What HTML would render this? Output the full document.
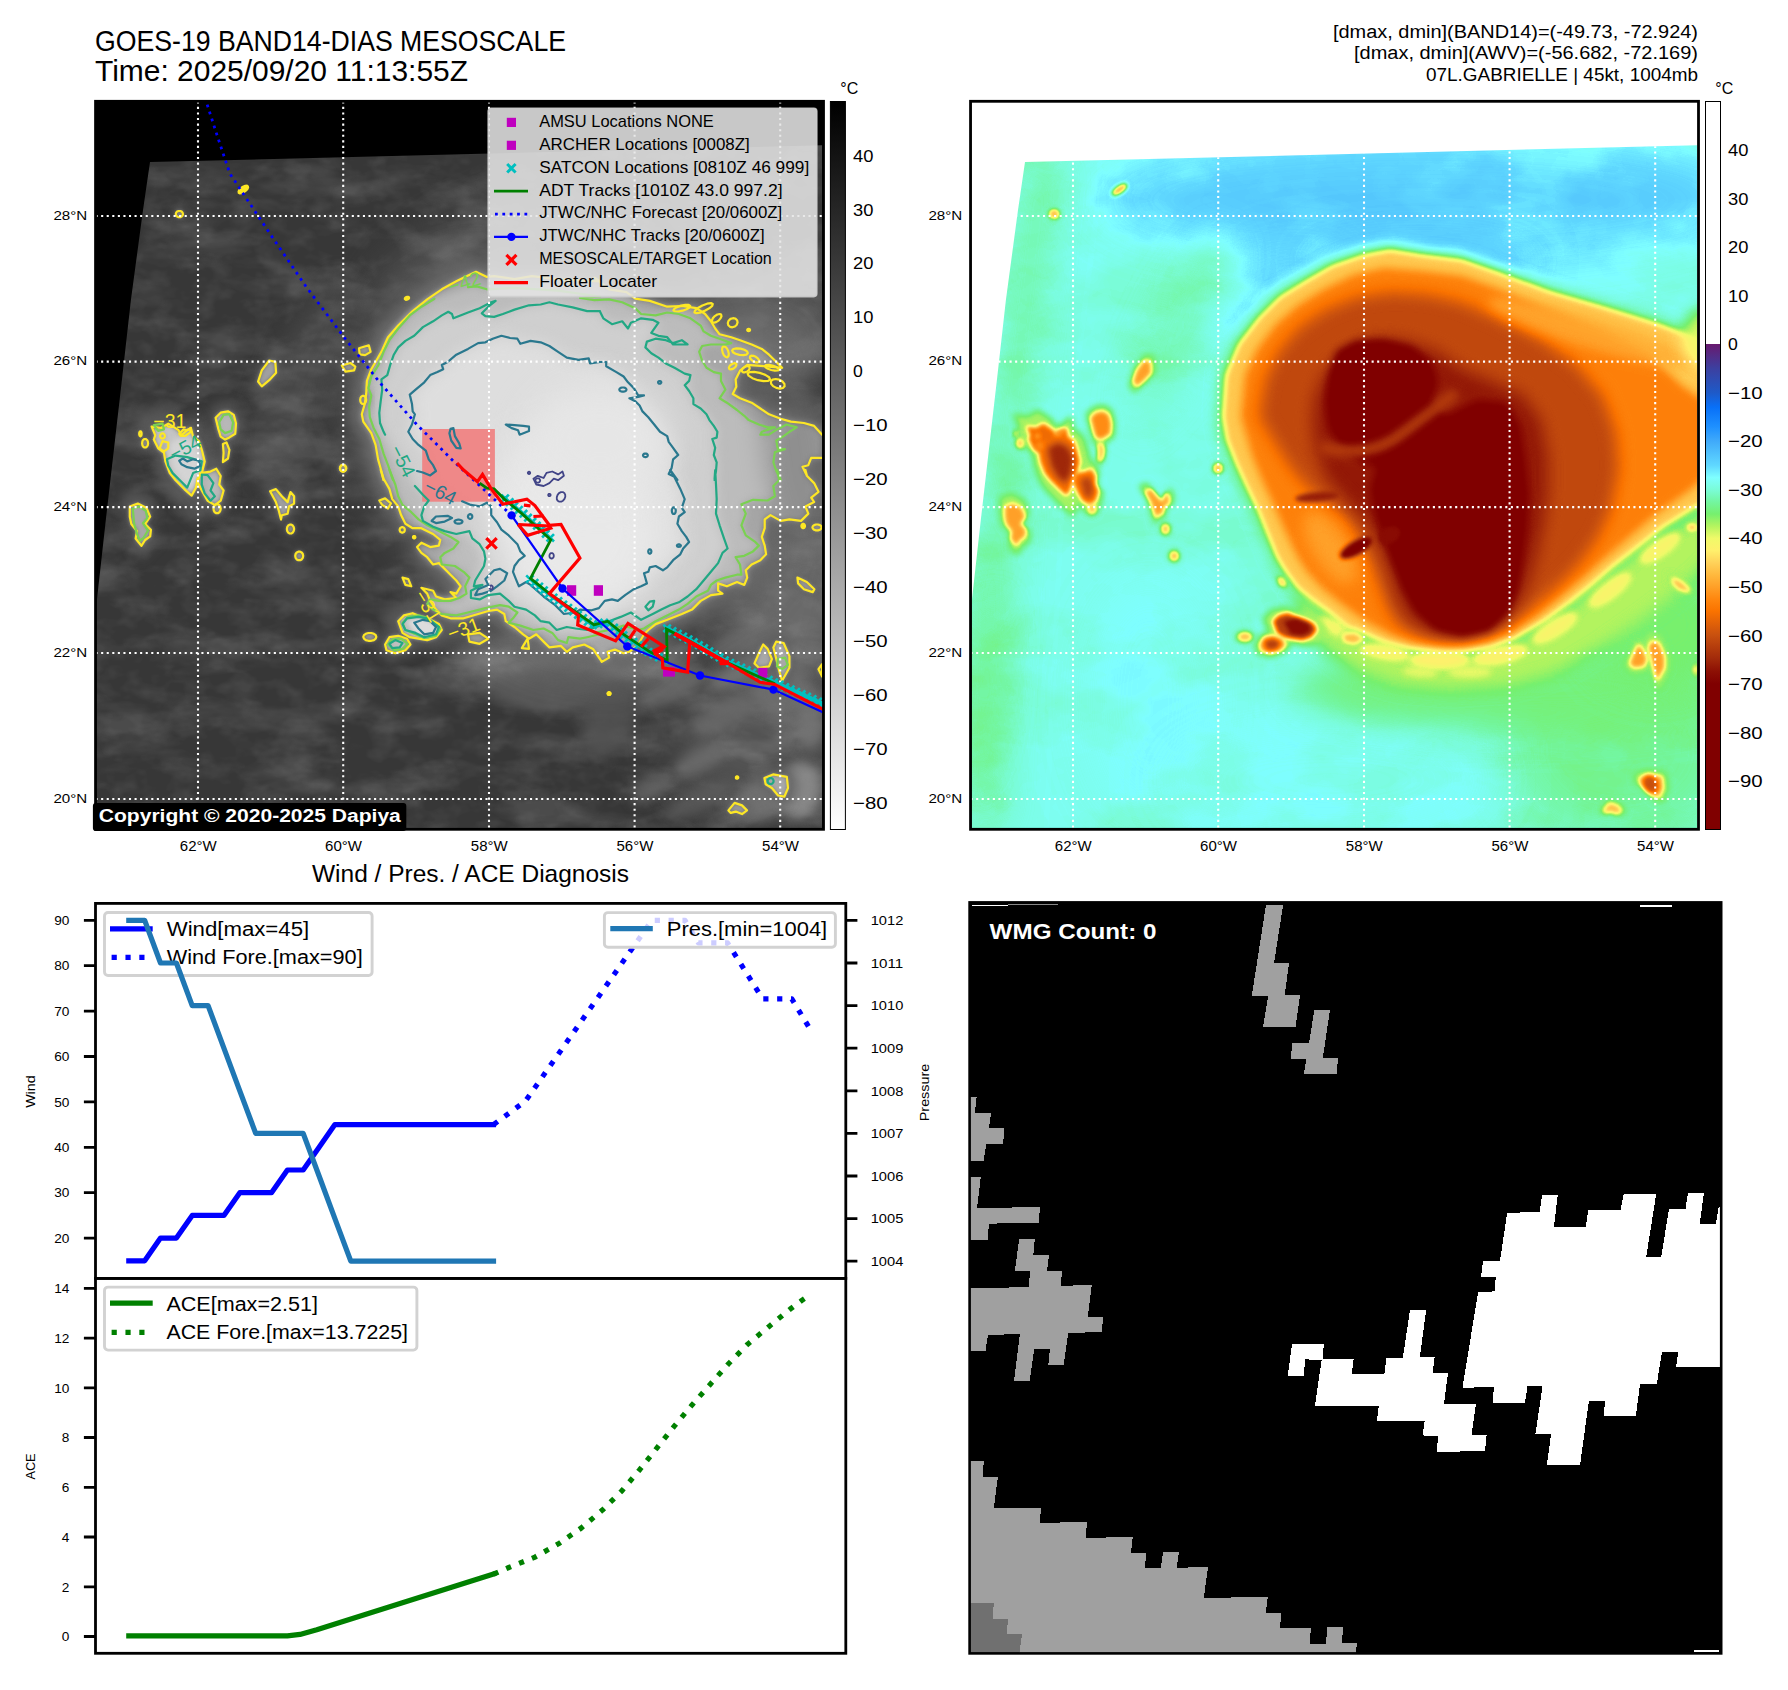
<!DOCTYPE html>
<html><head><meta charset="utf-8"><title>GOES-19 BAND14-DIAS MESOSCALE</title>
<style>html,body{margin:0;padding:0;background:#fff}body{width:1788px;height:1690px;overflow:hidden}svg{display:block}text{font-family:"Liberation Sans",sans-serif}</style>
</head><body>
<svg width="1788" height="1690" viewBox="0 0 1788 1690">
<defs><clipPath id="axL"><rect x="95.55" y="101.3" width="727.95" height="728.0"/></clipPath>
<clipPath id="imgL"><polygon points="150.0,162.1 822.2,145.2 822.2,832.0 92.0,832.0 92.0,640.0 94.0,626.0 96.9,600.0 105.8,520.0 121.9,380.0 130.9,300.0 143.0,210.0"/></clipPath>
<filter id="b1_2" x="-60%" y="-60%" width="220%" height="220%" color-interpolation-filters="sRGB"><feGaussianBlur stdDeviation="1.2"/></filter>
<filter id="b2" x="-60%" y="-60%" width="220%" height="220%" color-interpolation-filters="sRGB"><feGaussianBlur stdDeviation="2"/></filter>
<filter id="b3" x="-60%" y="-60%" width="220%" height="220%" color-interpolation-filters="sRGB"><feGaussianBlur stdDeviation="3"/></filter>
<filter id="b4" x="-60%" y="-60%" width="220%" height="220%" color-interpolation-filters="sRGB"><feGaussianBlur stdDeviation="4"/></filter>
<filter id="b6" x="-60%" y="-60%" width="220%" height="220%" color-interpolation-filters="sRGB"><feGaussianBlur stdDeviation="6"/></filter>
<filter id="b8" filterUnits="userSpaceOnUse" x="0" y="0" width="1788" height="900" color-interpolation-filters="sRGB"><feGaussianBlur stdDeviation="8"/></filter>
<filter id="b12" filterUnits="userSpaceOnUse" x="0" y="0" width="1788" height="900" color-interpolation-filters="sRGB"><feGaussianBlur stdDeviation="12"/></filter>
<filter id="b18" filterUnits="userSpaceOnUse" x="0" y="0" width="1788" height="900" color-interpolation-filters="sRGB"><feGaussianBlur stdDeviation="18"/></filter>
<filter id="b28" filterUnits="userSpaceOnUse" x="0" y="0" width="1788" height="900" color-interpolation-filters="sRGB"><feGaussianBlur stdDeviation="28"/></filter>
<filter id="nzA" x="0" y="0" width="100%" height="100%" color-interpolation-filters="sRGB">
<feTurbulence type="fractalNoise" baseFrequency="0.012 0.03" numOctaves="4" seed="7" result="t"/>
<feColorMatrix in="t" type="matrix" values="0 0 0 0 1  0 0 0 0 1  0 0 0 0 1  3.2 0 0 0 -1.45"/>
</filter>
<filter id="nzB" x="0" y="0" width="100%" height="100%" color-interpolation-filters="sRGB">
<feTurbulence type="fractalNoise" baseFrequency="0.035 0.05" numOctaves="3" seed="23" result="t"/>
<feColorMatrix in="t" type="matrix" values="0 0 0 0 1  0 0 0 0 1  0 0 0 0 1  0 2.6 0 0 -1.15"/>
</filter><clipPath id="axR"><rect x="970.55" y="101.3" width="727.95" height="728.0"/></clipPath>
<clipPath id="imgR"><polygon points="1025.0,162.1 1697.2,145.2 1697.2,832.0 967.0,832.0 967.0,640.0 969.0,626.0 971.9,600.0 980.8,520.0 996.9,380.0 1005.9,300.0 1018.0,210.0"/></clipPath>
<filter id="cmR" filterUnits="userSpaceOnUse" x="965.55" y="96.3" width="737.95" height="738.0" color-interpolation-filters="sRGB">
<feComponentTransfer><feFuncR type="table" tableValues="0.251 0.314 0.376 0.498 0.478 0.451 0.463 0.706 0.941 1.000 1.000 1.000 1.000 1.000 0.980 0.882 0.784 0.706 0.627 0.549 0.502 0.502 0.502"/><feFuncG type="table" tableValues="0.667 0.757 0.847 1.000 0.988 0.965 0.941 0.957 0.980 0.941 0.824 0.725 0.627 0.529 0.451 0.380 0.314 0.235 0.157 0.059 0.000 0.000 0.000"/><feFuncB type="table" tableValues="0.980 0.988 1.000 1.000 0.843 0.627 0.431 0.373 0.412 0.424 0.353 0.243 0.157 0.059 0.000 0.031 0.059 0.047 0.039 0.016 0.000 0.000 0.000"/></feComponentTransfer></filter>
<filter id="nzC" x="0" y="0" width="100%" height="100%" color-interpolation-filters="sRGB">
<feTurbulence type="fractalNoise" baseFrequency="0.010 0.016" numOctaves="4" seed="11" result="t"/>
<feColorMatrix in="t" type="matrix" values="0 0 0 0 1  0 0 0 0 1  0 0 0 0 1  3.0 0 0 0 -1.2"/>
</filter>
<filter id="nzD" x="0" y="0" width="100%" height="100%" color-interpolation-filters="sRGB">
<feTurbulence type="fractalNoise" baseFrequency="0.014 0.02" numOctaves="4" seed="5" result="t"/>
<feColorMatrix in="t" type="matrix" values="0 0 0 0 0  0 0 0 0 0  0 0 0 0 0  0 3.0 0 0 -1.25"/>
</filter></defs>
<rect width="1788" height="1690" fill="#fff"/>
<text x="95" y="51.2" font-size="29.4" textLength="471" lengthAdjust="spacingAndGlyphs" fill="#000">GOES-19 BAND14-DIAS MESOSCALE</text>
<text x="95" y="81.2" font-size="29.4" textLength="373" lengthAdjust="spacingAndGlyphs" fill="#000">Time: 2025/09/20 11:13:55Z</text>
<text x="1698" y="38.3" font-size="18.0" text-anchor="end" textLength="365" lengthAdjust="spacingAndGlyphs" fill="#000">[dmax, dmin](BAND14)=(-49.73, -72.924)</text>
<text x="1698" y="59.4" font-size="18.0" text-anchor="end" textLength="344" lengthAdjust="spacingAndGlyphs" fill="#000">[dmax, dmin](AWV)=(-56.682, -72.169)</text>
<text x="1698" y="80.6" font-size="18.0" text-anchor="end" textLength="272" lengthAdjust="spacingAndGlyphs" fill="#000">07L.GABRIELLE | 45kt, 1004mb</text>
<g clip-path="url(#axL)">
<rect x="95.55" y="101.3" width="727.95" height="728.0" fill="#000"/>
<g clip-path="url(#imgL)">
<rect x="90" y="140" width="740" height="695" fill="#373737"/>
<ellipse cx="760" cy="735" rx="90" ry="80" fill="#545454" filter="url(#b28)"/>
<ellipse cx="575" cy="662" rx="120" ry="30" fill="#747474" filter="url(#b12)"/>
<ellipse cx="790" cy="560" rx="60" ry="140" fill="#6a6a6a" filter="url(#b18)"/>
<ellipse cx="760" cy="330" rx="90" ry="60" fill="#5a5a5a" filter="url(#b18)"/>
<ellipse cx="480" cy="250" rx="120" ry="40" fill="#4c4c4c" filter="url(#b18)" transform="rotate(-25 480 250)"/>
<ellipse cx="300" cy="380" rx="30" ry="110" fill="#474747" filter="url(#b12)" transform="rotate(25 300 380)"/>
<rect x="90" y="140" width="740" height="695" filter="url(#nzA)" opacity="0.10"/>
<rect x="90" y="140" width="740" height="695" filter="url(#nzB)" opacity="0.07"/>
<ellipse cx="670" cy="690" rx="40" ry="12" fill="#6c6c6c" filter="url(#b6)" opacity="0.8" transform="rotate(-25 670 690)"/>
<ellipse cx="725" cy="715" rx="36" ry="14" fill="#6a6a6a" filter="url(#b6)" opacity="0.8" transform="rotate(-30 725 715)"/>
<ellipse cx="780" cy="690" rx="26" ry="30" fill="#727272" filter="url(#b6)" opacity="0.8"/>
<ellipse cx="800" cy="790" rx="22" ry="28" fill="#959595" filter="url(#b6)" opacity="0.8" transform="rotate(10 800 790)"/>
<ellipse cx="760" cy="800" rx="30" ry="20" fill="#7a7a7a" filter="url(#b6)" opacity="0.8" transform="rotate(-20 760 800)"/>
<ellipse cx="700" cy="760" rx="28" ry="12" fill="#6e6e6e" filter="url(#b6)" opacity="0.8" transform="rotate(-30 700 760)"/>
<ellipse cx="650" cy="790" rx="22" ry="10" fill="#666" filter="url(#b6)" opacity="0.8" transform="rotate(-30 650 790)"/>
<ellipse cx="810" cy="720" rx="14" ry="30" fill="#777" filter="url(#b6)" opacity="0.8"/>
<ellipse cx="735" cy="675" rx="30" ry="10" fill="#7c7c7c" filter="url(#b6)" opacity="0.8" transform="rotate(-25 735 675)"/>
<ellipse cx="700" cy="800" rx="40" ry="12" fill="#5c5c5c" filter="url(#b6)" opacity="0.8" transform="rotate(-25 700 800)"/>
<ellipse cx="745" cy="640" rx="36" ry="14" fill="#6c6c6c" filter="url(#b6)" opacity="0.8" transform="rotate(-20 745 640)"/>
<ellipse cx="560" cy="690" rx="70" ry="22" fill="#5a5a5a" filter="url(#b6)" opacity="0.8"/>
<ellipse cx="610" cy="720" rx="24" ry="40" fill="#545454" filter="url(#b6)" opacity="0.8" transform="rotate(20 610 720)"/>
<polygon points="367.1,480.8 364.8,471.1 361.1,458.5 358.5,442.8 353.8,430.3 345.1,417.7 343.6,409.9 346.7,398.9 348.3,387.9 349.1,373.7 353.8,361.2 359.3,351.8 365.5,340.8 371.8,326.6 382.8,314.1 398.5,298.4 414.2,285.8 429.9,274.8 445.6,266.2 456.6,260.7 466.8,256.0 478.6,261.5 486.5,260.7 508.5,263.8 527.3,260.7 555.6,263.8 600.8,266.2 594.9,262.2 610.6,274.8 629.5,277.9 638.9,285.0 654.6,287.4 673.4,293.6 689.1,292.9 704.8,295.2 714.3,301.5 720.5,309.4 725.3,317.2 730.0,323.5 742.5,326.6 751.9,329.8 764.5,334.5 775.5,339.2 783.4,345.5 789.6,351.8 797.5,359.6 780.2,358.0 759.8,356.5 751.9,362.7 747.2,372.2 748.0,380.0 744.1,387.9 751.9,392.6 764.5,397.3 773.9,403.6 783.4,409.9 795.9,414.6 806.9,417.7 821.0,419.3 832.0,422.4 840.7,431.8 840.7,457.0 828.9,457.0 825.8,464.8 819.5,466.4 824.2,475.8 822.6,470.0 824.2,476.3 832.0,484.1 836.8,493.6 828.9,499.8 832.0,504.5 822.6,509.3 825.8,517.1 817.9,525.0 805.3,523.4 795.9,525.0 784.9,518.7 778.6,523.4 778.6,532.8 775.5,542.2 778.6,551.7 780.2,561.1 773.9,567.4 764.5,572.1 758.2,578.4 759.8,586.2 756.7,594.1 748.8,590.9 737.8,595.6 728.4,592.5 728.4,600.3 733.1,603.5 720.5,605.1 709.5,611.3 700.1,620.8 689.1,625.5 673.4,631.8 660.9,636.5 653.0,642.7 648.3,647.5 642.0,658.5 632.6,666.3 626.3,667.9 616.9,664.0 609.0,666.3 610.6,672.6 602.8,677.3 600.8,674.2 593.3,663.2 583.8,658.5 571.3,661.6 565.0,666.3 558.7,660.0 546.1,661.6 539.9,655.3 532.0,647.5 524.2,652.2 517.9,647.5 508.5,639.6 499.0,633.3 497.5,625.5 489.6,620.8 480.2,622.3 469.2,625.5 453.5,630.2 439.4,630.2 429.9,627.0 423.6,620.8 417.4,611.3 414.2,603.5 407.9,597.2 420.5,600.3 423.6,606.6 433.1,609.8 445.6,608.2 439.4,601.9 445.6,603.5 450.3,595.6 445.6,589.4 439.4,583.1 433.1,576.8 426.8,570.5 420.5,572.1 414.2,564.2 407.9,559.5 403.2,553.2 407.9,548.5 417.4,553.2 426.8,551.7 428.4,545.4 420.5,539.1 407.9,532.8 398.5,532.8 390.7,528.1 386.0,518.7 382.8,509.3 376.5,501.4 373.4,490.4 367.1,479.4 364.0,470.0" fill="#5e5e5e" filter="url(#b18)"/>
<polygon points="375.4,480.4 373.1,471.1 369.6,459.0 367.1,443.8 362.5,431.7 354.2,419.6 352.7,412.1 355.7,401.5 357.2,390.9 358.0,377.3 362.5,365.2 367.8,356.1 373.9,345.5 379.9,331.9 390.5,319.8 405.6,304.7 420.7,292.6 435.9,282.0 451.0,273.7 461.6,268.4 471.4,263.9 482.7,269.2 490.3,268.4 511.5,271.4 529.6,268.4 556.8,271.4 600.4,273.7 594.7,269.9 609.8,282.0 628.0,285.1 637.1,291.9 652.2,294.1 670.3,300.2 685.5,299.4 700.6,301.7 709.7,307.7 715.7,315.3 720.2,322.9 724.8,328.9 736.9,331.9 746.0,335.0 758.0,339.5 768.6,344.0 776.2,350.1 782.2,356.1 789.8,363.7 773.2,362.2 753.5,360.7 746.0,366.7 741.4,375.8 742.2,383.4 738.4,390.9 746.0,395.5 758.0,400.0 767.1,406.0 776.2,412.1 788.3,416.6 798.9,419.6 812.5,421.2 823.1,424.2 831.4,433.3 831.4,457.5 820.1,457.5 817.0,465.0 811.0,466.5 815.5,475.6 814.0,470.0 815.5,476.0 823.1,483.6 827.6,492.7 820.1,498.7 823.1,503.3 814.0,507.8 817.0,515.4 809.5,522.9 797.4,521.4 788.3,522.9 777.7,516.9 771.7,521.4 771.7,530.5 768.6,539.6 771.7,548.6 773.2,557.7 767.1,563.8 758.0,568.3 752.0,574.3 753.5,581.9 750.5,589.5 742.9,586.4 732.3,591.0 723.3,588.0 723.3,595.5 727.8,598.5 715.7,600.1 705.1,606.1 696.0,615.2 685.5,619.7 670.3,625.8 658.2,630.3 650.7,636.4 646.1,640.9 640.1,651.5 631.0,659.0 625.0,660.5 615.9,656.8 608.3,659.0 609.8,665.1 602.3,669.6 600.4,666.6 593.1,656.0 584.1,651.5 572.0,654.5 565.9,659.0 559.9,653.0 547.8,654.5 541.7,648.4 534.2,640.9 526.6,645.4 520.5,640.9 511.5,633.3 502.4,627.3 500.9,619.7 493.3,615.2 484.3,616.7 473.7,619.7 458.5,624.3 444.9,624.3 435.9,621.2 429.8,615.2 423.8,606.1 420.7,598.5 414.7,592.5 426.8,595.5 429.8,601.6 438.9,604.6 451.0,603.1 444.9,597.0 451.0,598.5 455.5,591.0 451.0,584.9 444.9,578.9 438.9,572.8 432.8,566.8 426.8,568.3 420.7,560.7 414.7,556.2 410.2,550.2 414.7,545.6 423.8,550.2 432.8,548.6 434.3,542.6 426.8,536.5 414.7,530.5 405.6,530.5 398.1,526.0 393.5,516.9 390.5,507.8 384.4,500.2 381.4,489.7 375.4,479.1 372.3,470.0" fill="#707070" filter="url(#b8)"/>
<polygon points="383.6,480.0 381.4,471.0 378.1,459.4 375.6,444.9 371.3,433.2 363.3,421.6 361.8,414.3 364.7,404.1 366.2,394.0 366.9,380.9 371.3,369.2 376.4,360.5 382.2,350.3 388.0,337.2 398.2,325.6 412.7,311.1 427.2,299.4 441.8,289.3 456.3,281.3 466.5,276.2 476.0,271.8 486.9,276.9 494.1,276.2 514.5,279.1 531.9,276.2 558.1,279.1 600.0,281.3 594.5,277.6 609.1,289.3 626.5,292.2 635.3,298.7 649.8,300.9 667.2,306.7 681.8,306.0 696.3,308.2 705.1,314.0 710.9,321.3 715.2,328.5 719.6,334.3 731.2,337.2 740.0,340.2 751.6,344.5 761.8,348.9 769.0,354.7 774.9,360.5 782.1,367.8 766.1,366.3 747.2,364.9 740.0,370.7 735.6,379.4 736.3,386.7 732.7,394.0 740.0,398.3 751.6,402.7 760.3,408.5 769.0,414.3 780.7,418.7 790.8,421.6 803.9,423.0 814.1,425.9 822.1,434.7 822.1,457.9 811.2,457.9 808.3,465.2 802.5,466.7 806.8,475.4 805.4,470.0 806.8,475.8 814.1,483.1 818.5,491.8 811.2,497.6 814.1,502.0 805.4,506.4 808.3,513.6 801.0,520.9 789.4,519.4 780.7,520.9 770.5,515.1 764.7,519.4 764.7,528.2 761.8,536.9 764.7,545.6 766.1,554.3 760.3,560.2 751.6,564.5 745.8,570.3 747.2,577.6 744.3,584.9 737.0,582.0 726.9,586.3 718.1,583.4 718.1,590.7 722.5,593.6 710.9,595.1 700.7,600.9 692.0,609.6 681.8,614.0 667.2,619.8 655.6,624.1 648.3,630.0 644.0,634.3 638.2,644.5 629.4,651.8 623.6,653.2 614.9,649.6 607.6,651.8 609.1,657.6 601.8,661.9 600.0,659.0 593.0,648.9 584.3,644.5 572.7,647.4 566.8,651.8 561.0,645.9 549.4,647.4 543.6,641.6 536.3,634.3 529.0,638.7 523.2,634.3 514.5,627.0 505.8,621.2 504.3,614.0 497.0,609.6 488.3,611.0 478.1,614.0 463.6,618.3 450.5,618.3 441.8,615.4 436.0,609.6 430.2,600.9 427.2,593.6 421.4,587.8 433.1,590.7 436.0,596.5 444.7,599.4 456.3,598.0 450.5,592.1 456.3,593.6 460.7,586.3 456.3,580.5 450.5,574.7 444.7,568.9 438.9,563.1 433.1,564.5 427.2,557.2 421.4,552.9 417.1,547.1 421.4,542.7 430.2,547.1 438.9,545.6 440.3,539.8 433.1,534.0 421.4,528.2 412.7,528.2 405.4,523.8 401.1,515.1 398.2,506.4 392.3,499.1 389.4,488.9 383.6,478.7 380.7,470.0" fill="#a6a6a6" filter="url(#b3)"/>
<polygon points="393.1,480.0 388.0,465.2 383.6,453.6 379.3,439.0 373.4,427.4 369.8,417.2 369.1,407.0 371.3,395.4 368.4,388.1 371.3,376.5 374.9,370.7 378.5,364.9 383.6,351.8 389.4,340.2 398.2,328.5 409.8,315.4 421.4,306.7 434.5,298.7 468.0,287.1 476.7,286.4 486.9,289.3 514.5,287.8 558.1,290.7 600.0,296.5 580.0,298.0 594.5,300.2 609.1,299.4 622.2,302.3 635.3,308.2 641.1,314.0 655.6,315.4 667.2,312.5 678.9,314.0 690.5,318.3 700.7,325.6 703.6,331.4 710.9,335.8 719.6,338.7 731.2,343.1 725.4,344.5 710.9,344.5 702.1,346.0 699.2,351.8 702.1,360.5 706.5,367.8 713.8,372.1 721.0,373.6 721.0,380.9 725.4,389.6 719.6,398.3 726.9,402.7 737.0,410.0 744.3,415.8 748.7,420.1 758.9,424.5 767.6,427.4 774.9,427.4 761.8,431.8 760.3,434.7 769.0,434.7 777.8,428.9 786.5,424.5 796.7,427.4 789.4,431.8 783.6,436.1 776.3,440.5 777.8,449.2 785.0,449.2 774.9,452.1 773.4,462.3 776.3,471.0 780.7,480.0 777.0,470.0 779.2,480.2 773.4,486.0 774.9,496.2 767.6,500.5 753.0,499.8 741.4,504.2 745.8,513.6 741.4,525.3 745.8,535.4 754.5,541.3 758.9,545.6 753.0,551.4 744.3,555.8 735.6,557.2 740.0,564.5 741.4,574.7 737.0,574.7 725.4,577.6 716.7,580.5 710.9,584.9 708.0,590.7 696.3,596.5 687.6,603.8 678.9,609.6 667.2,615.4 655.6,621.2 644.0,628.5 638.2,630.0 623.6,625.6 609.1,630.0 594.5,632.9 600.0,634.3 587.2,637.2 579.9,638.7 568.3,637.2 566.8,643.0 558.1,640.1 552.3,632.9 543.6,628.5 533.4,630.0 520.3,625.6 508.7,622.7 513.0,618.3 517.4,612.5 508.7,606.7 500.0,605.2 485.4,608.1 470.9,611.8 456.3,615.4 441.8,614.0 433.1,609.6 427.2,603.8 430.2,599.4 438.9,600.9 450.5,600.9 459.2,598.0 466.5,593.6 465.1,586.3 469.4,577.6 463.6,571.8 454.9,566.0 441.8,564.5 440.3,557.2 444.7,552.9 453.4,548.5 458.5,542.0 450.5,536.9 438.9,531.1 427.2,525.3 418.5,519.4 411.3,512.2 402.5,504.9 398.2,496.2 395.3,484.5 389.4,470.0" fill="#bcbcbc" filter="url(#b4)"/>
<polygon points="385.1,434.7 383.6,431.8 380.0,423.0 379.3,412.9 380.7,401.2 382.2,389.6 381.4,379.4 387.3,375.1 390.2,364.9 393.8,354.7 398.2,347.4 405.4,340.9 414.2,335.8 422.9,327.1 433.1,321.3 441.8,315.4 448.3,311.8 452.0,314.0 453.4,318.3 468.0,312.5 479.6,308.2 491.2,302.3 495.6,300.9 488.3,306.7 481.8,313.3 485.4,316.2 494.1,316.9 502.9,314.0 514.5,309.6 529.0,305.3 540.7,304.5 549.4,302.3 558.1,304.5 572.7,307.4 587.2,311.1 600.0,311.1 600.1,311.8 603.3,318.3 612.0,324.2 622.2,321.3 628.0,328.5 630.9,322.7 641.1,318.3 652.7,319.8 658.5,322.7 651.3,332.9 658.5,335.8 667.2,337.2 673.1,344.5 687.6,344.5 681.8,340.2 673.1,343.1 665.8,340.2 655.6,338.7 646.9,341.6 645.4,347.4 651.3,353.2 658.5,357.6 665.8,363.4 674.5,367.8 684.7,373.6 690.5,375.1 689.1,380.9 684.7,385.2 689.1,391.0 693.4,398.3 693.4,404.1 700.7,408.5 706.5,414.3 709.4,420.1 713.8,425.9 717.4,431.8 716.7,437.6 712.3,439.0 715.2,447.8 713.8,455.0 716.7,462.3 716.0,471.0 714.5,480.0 715.2,470.0 716.0,484.5 716.7,499.1 716.0,513.6 719.6,525.3 724.0,538.3 727.6,548.5 722.5,552.9 718.1,563.1 710.9,571.8 703.6,580.5 696.3,589.2 687.6,596.5 678.9,602.3 670.2,605.2 661.4,609.6 652.7,614.0 641.1,619.8 630.9,612.5 620.7,616.9 609.1,621.2 600.0,625.6 587.2,630.0 575.6,628.5 566.8,627.0 556.7,630.0 549.4,622.7 540.7,621.2 534.9,615.4 526.1,609.6 514.5,606.7 508.7,600.9 500.0,593.6 488.3,595.1 479.6,599.4 470.9,598.0 470.9,590.7 482.5,584.9 473.8,586.3 475.2,580.5 479.6,573.2 484.0,566.0 485.4,558.7 484.0,551.4 479.6,544.2 472.3,538.3 469.4,531.1 456.3,534.0 444.7,531.1 433.1,526.7 422.9,520.9 421.4,515.1 424.3,506.4 428.7,500.5 422.9,494.7 414.9,486.0" fill="#cfcfcf" filter="url(#b6)"/>
<polygon points="417.1,471.0 422.9,472.5 430.2,475.4 436.0,471.0 433.1,465.2 428.7,459.4 425.8,450.7 418.5,444.9 412.7,439.0 408.3,431.8 412.0,424.5 414.9,414.3 412.7,411.4 412.0,404.1 409.8,394.7 415.6,389.6 424.3,382.3 430.2,375.1 437.4,372.1 443.2,369.2 441.8,364.9 447.6,362.0 456.3,354.7 468.0,348.9 478.1,343.1 485.4,342.3 492.7,338.7 501.4,335.8 510.1,338.0 517.4,338.7 520.3,343.8 530.5,340.9 540.7,342.3 549.4,346.0 558.1,351.8 566.8,357.6 578.5,359.8 588.7,358.3 590.1,363.4 600.0,362.0 606.2,362.0 606.2,366.3 616.4,372.1 623.6,376.5 628.0,382.3 633.8,388.1 638.2,395.4 644.0,395.4 638.2,396.9 629.4,398.3 635.3,401.2 639.6,405.6 642.5,411.4 648.3,417.2 654.2,424.5 660.0,431.8 667.2,436.1 668.7,441.9 673.1,447.8 678.2,455.0 673.1,459.4 671.6,468.1 668.7,473.9 674.5,476.8 677.4,480.0 670.2,470.0 674.5,477.3 680.3,488.9 684.7,499.1 681.8,507.8 684.7,512.2 678.9,516.5 677.4,523.8 681.8,531.1 686.2,536.9 689.1,542.0 683.2,548.5 680.3,554.3 673.1,560.2 667.2,567.4 662.9,570.3 655.6,566.0 649.8,567.4 648.3,571.8 644.0,573.2 646.9,583.4 641.1,586.3 633.8,589.2 625.1,595.1 617.8,600.9 612.0,599.4 604.7,600.9 598.9,608.1 591.6,610.3 580.0,609.6 575.6,612.5 563.9,614.0 555.2,605.2 543.6,596.5 530.5,584.9 526.1,582.0 518.9,586.3 515.9,579.1 513.0,571.8 514.5,566.0 518.9,560.2 524.7,555.8 520.3,551.4 517.4,544.2 508.7,535.4 501.4,529.6 497.0,522.3 491.2,515.1 491.2,506.4 486.9,502.7 479.6,506.4 470.9,504.9 462.1,501.3" fill="#dedede" filter="url(#b8)"/>
<ellipse cx="795" cy="450" rx="32" ry="105" fill="#6e6e6e" filter="url(#b12)" opacity="0.4" transform="rotate(-8 795 450)"/>
<ellipse cx="775" cy="335" rx="55" ry="24" fill="#7a7a7a" filter="url(#b12)" opacity="0.45" transform="rotate(25 775 335)"/>
<polygon points="132.0,408.4 148.1,410.9 160.5,403.5 177.8,414.6 182.7,423.2 192.6,414.6 198.8,410.9 202.5,425.7 212.4,433.1 217.3,448.0 222.3,467.7 217.3,487.5 209.9,497.4 207.4,512.2 200.0,525.8 187.7,514.7 172.8,499.9 162.9,487.5 155.5,467.7 153.1,452.9 143.2,445.5 135.7,430.7 138.2,423.2" fill="#5c5c5c" filter="url(#b6)" opacity="0.8"/>
<polygon points="192.1,464.2 209.4,461.7 219.3,456.8 226.7,469.1 224.2,484.0 231.7,493.8 226.7,511.1 216.8,518.6 204.5,511.1 194.6,493.8 187.2,479.0" fill="#5c5c5c" filter="url(#b6)" opacity="0.8"/>
<polygon points="208.1,412.3 216.8,403.6 229.1,401.1 239.0,407.3 242.7,422.1 241.5,439.5 231.6,445.6 224.2,449.3 216.8,444.4 213.1,432.0" fill="#5c5c5c" filter="url(#b6)" opacity="0.8"/>
<polygon points="221.0,438.6 227.2,436.2 232.1,448.5 229.7,463.4 221.0,469.5 222.2,453.5" fill="#5c5c5c" filter="url(#b6)" opacity="0.8"/>
<polygon points="122.1,493.8 135.7,488.8 150.5,496.3 156.7,511.1 148.1,523.4 157.9,533.3 156.7,544.5 148.1,550.6 141.9,560.5 132.0,548.2 134.5,535.8 124.6,523.4 122.1,511.1" fill="#5c5c5c" filter="url(#b6)" opacity="0.8"/>
<polygon points="260.6,483.0 270.5,479.3 280.4,491.7 290.3,501.6 295.2,484.3 301.4,491.7 301.4,504.0 292.8,509.0 290.3,521.3 280.4,523.8 279.2,531.2 275.5,516.4 270.5,501.6" fill="#5c5c5c" filter="url(#b6)" opacity="0.8"/>
<polygon points="296.6,529.0 296.0,532.4 294.3,535.2 291.9,536.7 289.1,536.7 286.7,535.2 285.0,532.4 284.4,529.0 285.0,525.7 286.7,522.9 289.1,521.4 291.9,521.4 294.3,522.9 296.0,525.7" fill="#5c5c5c" filter="url(#b6)" opacity="0.8"/>
<polygon points="306.0,555.9 305.3,559.2 303.5,561.8 300.7,563.2 297.7,563.2 295.0,561.8 293.1,559.2 292.4,555.9 293.1,552.7 295.0,550.1 297.7,548.7 300.7,548.7 303.5,550.1 305.3,552.7" fill="#5c5c5c" filter="url(#b6)" opacity="0.8"/>
<polygon points="150.2,443.3 149.7,446.5 148.3,449.1 146.2,450.5 143.9,450.5 141.9,449.1 140.5,446.5 140.0,443.3 140.5,440.0 141.9,437.4 143.9,436.0 146.2,436.0 148.3,437.4 149.7,440.0" fill="#5c5c5c" filter="url(#b6)" opacity="0.8"/>
<polygon points="142.5,433.8 142.3,435.7 141.7,437.3 140.9,438.1 140.0,438.1 139.2,437.3 138.6,435.7 138.4,433.8 138.6,431.9 139.2,430.3 140.0,429.5 140.9,429.5 141.7,430.3 142.3,431.9" fill="#5c5c5c" filter="url(#b6)" opacity="0.8"/>
<polygon points="348.6,468.3 348.0,470.8 346.5,472.8 344.3,473.9 341.9,473.9 339.7,472.8 338.2,470.8 337.7,468.3 338.2,465.8 339.7,463.7 341.9,462.6 344.3,462.6 346.5,463.7 348.0,465.8" fill="#5c5c5c" filter="url(#b6)" opacity="0.8"/>
<polygon points="223.2,508.7 222.6,512.1 220.9,514.8 218.4,516.3 215.7,516.3 213.2,514.8 211.5,512.1 210.9,508.7 211.5,505.3 213.2,502.6 215.7,501.1 218.4,501.1 220.9,502.6 222.6,505.3" fill="#5c5c5c" filter="url(#b6)" opacity="0.8"/>
<polygon points="166.6,436.0 166.2,437.9 165.1,439.4 163.4,440.3 161.6,440.3 160.0,439.4 158.9,437.9 158.4,436.0 158.9,434.1 160.0,432.5 161.6,431.7 163.4,431.7 165.1,432.5 166.2,434.1" fill="#5c5c5c" filter="url(#b6)" opacity="0.8"/>
<polygon points="161.1,437.4 171.0,439.9 171.0,449.8 163.6,454.7 156.2,449.8" fill="#5c5c5c" filter="url(#b6)" opacity="0.8"/>
<polygon points="175.0,434.9 182.4,427.5 188.6,428.7 194.8,425.0 193.6,432.4 184.9,438.6 177.5,438.6" fill="#5c5c5c" filter="url(#b6)" opacity="0.8"/>
<polygon points="185.5,214.1 184.9,216.5 183.2,218.4 180.7,219.4 178.0,219.4 175.5,218.4 173.8,216.5 173.2,214.1 173.8,211.8 175.5,209.9 178.0,208.8 180.7,208.8 183.2,209.9 184.9,211.8" fill="#5c5c5c" filter="url(#b6)" opacity="0.8"/>
<polygon points="251.6,387.1 257.9,368.3 270.5,351.6 280.9,353.6 282.2,372.5 270.5,385.0 257.9,395.5" fill="#5c5c5c" filter="url(#b6)" opacity="0.8"/>
<polygon points="336.4,364.1 351.1,359.9 359.4,366.2 357.3,372.5 342.7,374.5" fill="#5c5c5c" filter="url(#b6)" opacity="0.8"/>
<polygon points="355.0,346.3 371.8,341.3 374.7,352.6 365.5,358.0 356.3,356.8" fill="#5c5c5c" filter="url(#b6)" opacity="0.8"/>
<polygon points="348.1,468.3 347.6,470.8 346.2,472.8 344.1,474.0 341.9,474.0 339.8,472.8 338.4,470.8 337.9,468.3 338.4,465.8 339.8,463.8 341.9,462.7 344.1,462.7 346.2,463.8 347.6,465.8" fill="#5c5c5c" filter="url(#b6)" opacity="0.8"/>
<polygon points="368.3,399.9 367.8,403.0 366.4,405.5 364.3,406.9 362.0,406.9 360.0,405.5 358.6,403.0 358.1,399.9 358.6,396.8 360.0,394.3 362.0,393.0 364.3,393.0 366.4,394.3 367.8,396.8" fill="#5c5c5c" filter="url(#b6)" opacity="0.8"/>
<polygon points="382.8,617.0 392.7,607.1 407.5,603.4 422.4,609.6 437.2,614.6 452.0,622.0 457.0,631.9 447.1,644.2 432.3,649.2 417.4,646.7 402.6,644.2 390.2,636.8" fill="#5c5c5c" filter="url(#b6)" opacity="0.8"/>
<polygon points="376.6,644.6 384.0,632.3 398.9,629.8 413.7,634.7 419.9,644.6 411.2,654.5 393.9,659.5 379.1,654.5" fill="#5c5c5c" filter="url(#b6)" opacity="0.8"/>
<polygon points="380.9,636.9 379.8,639.9 376.7,642.2 372.3,643.6 367.4,643.6 362.9,642.2 359.9,639.9 358.8,636.9 359.9,634.0 362.9,631.6 367.4,630.3 372.3,630.3 376.7,631.6 379.8,634.0" fill="#5c5c5c" filter="url(#b6)" opacity="0.8"/>
<polygon points="399.5,574.6 409.4,577.0 414.3,589.4 404.4,586.9" fill="#5c5c5c" filter="url(#b6)" opacity="0.8"/>
<polygon points="406.7,529.9 406.2,532.0 405.0,533.6 403.2,534.6 401.3,534.6 399.5,533.6 398.3,532.0 397.8,529.9 398.3,527.8 399.5,526.2 401.3,525.3 403.2,525.3 405.0,526.2 406.2,527.8" fill="#5c5c5c" filter="url(#b6)" opacity="0.8"/>
<polygon points="461.7,631.6 481.4,629.1 496.3,639.0 481.4,647.6 464.1,643.9" fill="#5c5c5c" filter="url(#b6)" opacity="0.8"/>
<polygon points="518.7,650.2 528.6,634.1 531.1,651.4" fill="#5c5c5c" filter="url(#b6)" opacity="0.8"/>
<polygon points="375.2,498.7 385.1,495.0 395.0,503.6 390.0,512.3 380.1,506.1" fill="#5c5c5c" filter="url(#b6)" opacity="0.8"/>
<polygon points="791.7,572.0 807.7,579.4 820.6,591.8 817.6,596.7 802.8,591.8 792.9,581.9" fill="#5c5c5c" filter="url(#b6)" opacity="0.8"/>
<polygon points="824.8,527.4 824.1,529.7 821.9,531.4 818.8,532.4 815.3,532.4 812.1,531.4 810.0,529.7 809.2,527.4 810.0,525.2 812.1,523.5 815.3,522.5 818.8,522.5 821.9,523.5 824.1,525.2" fill="#5c5c5c" filter="url(#b6)" opacity="0.8"/>
<polygon points="763.1,635.3 770.5,642.7 777.9,660.1 773.0,672.4 755.7,674.9 748.2,667.5 755.7,650.2" fill="#5c5c5c" filter="url(#b6)" opacity="0.8"/>
<polygon points="772.9,629.9 785.2,632.4 795.1,654.6 795.1,674.4 782.8,696.6 777.8,679.3 772.9,659.5 767.9,639.8" fill="#5c5c5c" filter="url(#b6)" opacity="0.8"/>
<polygon points="823.0,660.1 816.8,668.7 823.0,681.1" fill="#5c5c5c" filter="url(#b6)" opacity="0.8"/>
<polygon points="755.9,773.1 770.7,766.7 794.0,771.0 796.1,790.0 789.7,804.8 779.2,802.7 768.6,790.0 758.0,783.6" fill="#5c5c5c" filter="url(#b6)" opacity="0.8"/>
<polygon points="722.1,810.9 732.7,798.2 745.4,802.4 753.8,810.9 745.4,817.2 734.8,813.0 726.4,815.1" fill="#5c5c5c" filter="url(#b6)" opacity="0.8"/>
<polygon points="151.6,426.5 161.1,428.0 168.3,423.6 178.5,430.2 181.4,435.3 187.2,430.2 190.9,428.0 193.1,436.7 198.9,441.1 201.8,449.8 204.7,461.4 201.8,473.1 197.4,478.9 196.0,487.6 191.6,495.6 184.3,489.1 175.6,480.3 169.8,473.1 165.4,461.4 164.0,452.7 158.2,448.3 153.8,439.6 155.3,435.3" fill="#c4c4c4" filter="url(#b2)"/>
<polygon points="200.3,473.1 210.5,471.6 216.3,468.7 220.7,476.0 219.2,484.7 223.6,490.5 220.7,500.7 214.9,505.1 207.6,500.7 201.8,490.5 197.4,481.8" fill="#b0b0b0" filter="url(#b2)"/>
<polygon points="215.6,417.8 220.7,412.7 228.0,411.3 233.8,414.9 236.0,423.6 235.2,433.8 229.4,437.4 225.1,439.6 220.7,436.7 218.5,429.4" fill="#adadad" filter="url(#b2)"/>
<polygon points="222.9,444.0 226.5,442.5 229.4,449.8 228.0,458.5 222.9,462.2 223.6,452.7" fill="#999" filter="url(#b2)"/>
<polygon points="129.8,506.5 137.8,503.6 146.5,508.0 150.2,516.7 145.1,524.0 150.9,529.8 150.2,536.3 145.1,540.0 141.4,545.8 135.6,538.5 137.1,531.2 131.3,524.0 129.8,516.7" fill="#a8a8a8" filter="url(#b2)"/>
<polygon points="270.1,491.2 275.9,489.1 281.8,496.3 287.6,502.1 290.5,492.0 294.1,496.3 294.1,503.6 289.0,506.5 287.6,513.8 281.8,515.2 281.0,519.6 278.9,510.9 275.9,502.1" fill="#a0a0a0" filter="url(#b2)"/>
<polygon points="294.1,529.0 293.7,531.0 292.7,532.6 291.3,533.5 289.7,533.5 288.2,532.6 287.2,531.0 286.9,529.0 287.2,527.1 288.2,525.5 289.7,524.6 291.3,524.6 292.7,525.5 293.7,527.1" fill="#999" filter="url(#b2)"/>
<polygon points="303.2,555.9 302.8,557.9 301.7,559.4 300.1,560.2 298.3,560.2 296.7,559.4 295.6,557.9 295.2,555.9 295.6,554.0 296.7,552.5 298.3,551.7 300.1,551.7 301.7,552.5 302.8,554.0" fill="#999" filter="url(#b2)"/>
<polygon points="148.1,443.3 147.8,445.2 146.9,446.7 145.7,447.5 144.4,447.5 143.2,446.7 142.4,445.2 142.1,443.3 142.4,441.3 143.2,439.8 144.4,439.0 145.7,439.0 146.9,439.8 147.8,441.3" fill="#999" filter="url(#b2)"/>
<polygon points="141.6,433.8 141.5,434.9 141.2,435.8 140.7,436.3 140.2,436.3 139.7,435.8 139.3,434.9 139.2,433.8 139.3,432.7 139.7,431.8 140.2,431.3 140.7,431.3 141.2,431.8 141.5,432.7" fill="#999" filter="url(#b2)"/>
<polygon points="346.3,468.3 346.0,469.7 345.1,470.9 343.8,471.6 342.4,471.6 341.1,470.9 340.2,469.7 339.9,468.3 340.2,466.8 341.1,465.6 342.4,465.0 343.8,465.0 345.1,465.6 346.0,466.8" fill="#999" filter="url(#b2)"/>
<polygon points="220.7,508.7 220.3,510.7 219.3,512.3 217.9,513.2 216.3,513.2 214.8,512.3 213.8,510.7 213.5,508.7 213.8,506.7 214.8,505.1 216.3,504.2 217.9,504.2 219.3,505.1 220.3,506.7" fill="#999" filter="url(#b2)"/>
<polygon points="164.9,436.0 164.7,437.1 164.0,438.0 163.1,438.5 162.0,438.5 161.0,438.0 160.4,437.1 160.1,436.0 160.4,434.9 161.0,434.0 162.0,433.4 163.1,433.4 164.0,434.0 164.7,434.9" fill="#999" filter="url(#b2)"/>
<polygon points="162.5,441.1 168.3,442.5 168.3,448.3 164.0,451.3 159.6,448.3" fill="#aaa" filter="url(#b2)"/>
<polygon points="179.2,433.8 183.6,429.4 187.2,430.2 190.9,428.0 190.2,432.3 185.1,436.0 180.7,436.0" fill="#aaa" filter="url(#b2)"/>
<polygon points="183.0,214.1 182.6,215.5 181.6,216.6 180.2,217.2 178.6,217.2 177.1,216.6 176.1,215.5 175.8,214.1 176.1,212.7 177.1,211.6 178.6,211.0 180.2,211.0 181.6,211.6 182.6,212.7" fill="#999" filter="url(#b2)"/>
<polygon points="258.1,381.5 261.8,370.4 269.2,360.5 275.3,361.8 276.1,372.8 269.2,380.2 261.8,386.4" fill="#a0a0a0" filter="url(#b2)"/>
<polygon points="341.8,365.5 350.4,363.0 355.3,366.7 354.1,370.4 345.5,371.6" fill="#999" filter="url(#b2)"/>
<polygon points="359.0,348.2 368.8,345.3 370.6,351.9 365.1,355.1 359.7,354.4" fill="#999" filter="url(#b2)"/>
<polygon points="346.0,468.3 345.7,469.8 344.9,471.0 343.7,471.6 342.3,471.6 341.1,471.0 340.3,469.8 340.0,468.3 340.3,466.9 341.1,465.7 342.3,465.0 343.7,465.0 344.9,465.7 345.7,466.9" fill="#999" filter="url(#b2)"/>
<polygon points="366.2,399.9 365.9,401.7 365.0,403.2 363.8,404.0 362.5,404.0 361.3,403.2 360.5,401.7 360.2,399.9 360.5,398.1 361.3,396.6 362.5,395.8 363.8,395.8 365.0,396.6 365.9,398.1" fill="#999" filter="url(#b2)"/>
<polygon points="398.2,621.2 404.0,615.4 412.7,613.2 421.4,616.9 430.2,619.8 438.9,624.1 441.8,630.0 436.0,637.2 427.2,640.1 418.5,638.7 409.8,637.2 402.5,632.9" fill="#bdbdbd" filter="url(#b2)"/>
<polygon points="385.1,644.5 389.4,637.2 398.2,635.8 406.9,638.7 410.5,644.5 405.4,650.3 395.3,653.2 386.5,650.3" fill="#aaa" filter="url(#b2)"/>
<polygon points="376.3,636.9 375.7,638.7 373.9,640.1 371.3,640.8 368.4,640.8 365.8,640.1 364.0,638.7 363.3,636.9 364.0,635.2 365.8,633.8 368.4,633.0 371.3,633.0 373.9,633.8 375.7,635.2" fill="#999" filter="url(#b2)"/>
<polygon points="402.5,577.6 408.3,579.1 411.3,586.3 405.4,584.9" fill="#999" filter="url(#b2)"/>
<polygon points="404.8,529.9 404.6,531.1 403.9,532.1 402.8,532.6 401.7,532.6 400.6,532.1 399.9,531.1 399.6,529.9 399.9,528.7 400.6,527.7 401.7,527.2 402.8,527.2 403.9,527.7 404.6,528.7" fill="#999" filter="url(#b2)"/>
<polygon points="468.0,634.3 479.6,632.9 488.3,638.7 479.6,643.8 469.4,641.6" fill="#999" filter="url(#b2)"/>
<polygon points="521.8,648.1 527.6,638.7 529.0,648.9" fill="#888" filter="url(#b2)"/>
<polygon points="379.3,500.5 385.1,498.4 390.9,503.4 388.0,508.5 382.2,504.9" fill="#999" filter="url(#b2)"/>
<polygon points="797.4,577.6 806.8,582.0 814.4,589.2 812.7,592.1 803.9,589.2 798.1,583.4" fill="#999" filter="url(#b2)"/>
<polygon points="821.6,527.4 821.2,528.7 819.9,529.8 818.0,530.4 816.0,530.4 814.2,529.8 812.9,528.7 812.4,527.4 812.9,526.1 814.2,525.1 816.0,524.5 818.0,524.5 819.9,525.1 821.2,526.1" fill="#999" filter="url(#b2)"/>
<polygon points="763.2,644.5 767.6,648.9 771.9,659.0 769.0,666.3 758.9,667.8 754.5,663.4 758.9,653.2" fill="#a8a8a8" filter="url(#b2)"/>
<polygon points="776.3,641.6 783.6,643.0 789.4,656.1 789.4,667.8 782.1,680.8 779.2,670.7 776.3,659.0 773.4,647.4" fill="#a8a8a8" filter="url(#b2)"/>
<polygon points="822.1,664.1 818.5,669.2 822.1,676.5" fill="#999" filter="url(#b2)"/>
<polygon points="764.4,778.1 773.1,774.4 786.8,776.8 788.0,788.0 784.3,796.7 778.1,795.5 771.9,788.0 765.7,784.3" fill="#a8a8a8" filter="url(#b2)"/>
<polygon points="728.4,810.4 734.6,802.9 742.0,805.4 747.0,810.4 742.0,814.1 735.8,811.6 730.8,812.9" fill="#999" filter="url(#b2)"/>
<polygon points="168.3,444.0 181.4,436.7 194.5,442.5 201.1,458.5 198.2,476.0 191.6,489.1 181.4,481.8 173.4,468.7" fill="#d4d4d4" filter="url(#b3)"/>
<polygon points="204.7,478.9 214.9,476.0 219.2,487.6 216.3,499.2 209.1,496.3" fill="#bbbbbb" filter="url(#b3)"/>
<polygon points="406.9,621.2 421.4,617.6 435.2,624.1 436.7,631.4 427.2,636.5 415.6,635.0" fill="#dcdcdc" filter="url(#b2)"/>
<polygon points="389.4,641.6 398.2,638.7 405.4,643.0 401.1,648.9 392.3,649.6" fill="#c0c0c0" filter="url(#b2)"/>
<polygon points="218.5,419.3 226.5,414.2 233.1,417.8 233.8,429.4 228.0,436.0 221.4,432.3" fill="#b8b8b8" filter="url(#b3)"/>
<ellipse cx="575" cy="520" rx="85" ry="95" fill="#e9e9e9" filter="url(#b18)" transform="rotate(-20 575 520)"/>
<ellipse cx="600" cy="440" rx="70" ry="55" fill="#e6e6e6" filter="url(#b18)"/>
</g>
</g>
<g clip-path="url(#axL)">
<rect x="422.2" y="429" width="72.7" height="72.7" fill="#f08080" fill-opacity="0.92"/>
<g clip-path="url(#imgL)">
<polyline points="383.6,480.0 381.4,471.0 378.1,459.4 375.6,444.9 371.3,433.2 363.3,421.6 361.8,414.3 364.7,404.1 366.2,394.0 366.9,380.9 371.3,369.2 376.4,360.5 382.2,350.3 388.0,337.2 398.2,325.6 412.7,311.1 427.2,299.4 441.8,289.3 456.3,281.3 466.5,276.2 476.0,271.8 486.9,276.9 494.1,276.2 514.5,279.1 531.9,276.2 558.1,279.1 600.0,281.3 594.5,277.6 609.1,289.3 626.5,292.2 635.3,298.7 649.8,300.9 667.2,306.7 681.8,306.0 696.3,308.2 705.1,314.0 710.9,321.3 715.2,328.5 719.6,334.3 731.2,337.2 740.0,340.2 751.6,344.5 761.8,348.9 769.0,354.7 774.9,360.5 782.1,367.8 766.1,366.3 747.2,364.9 740.0,370.7 735.6,379.4 736.3,386.7 732.7,394.0 740.0,398.3 751.6,402.7 760.3,408.5 769.0,414.3 780.7,418.7 790.8,421.6 803.9,423.0 814.1,425.9 822.1,434.7" fill="none" stroke="#fde725" stroke-width="2.2" stroke-linejoin="round" stroke-linecap="round"/>
<polyline points="822.1,457.9 811.2,457.9 808.3,465.2 802.5,466.7 806.8,475.4 805.4,470.0 806.8,475.8 814.1,483.1 818.5,491.8 811.2,497.6 814.1,502.0 805.4,506.4 808.3,513.6 801.0,520.9 789.4,519.4 780.7,520.9 770.5,515.1 764.7,519.4 764.7,528.2 761.8,536.9 764.7,545.6 766.1,554.3 760.3,560.2 751.6,564.5 745.8,570.3 747.2,577.6 744.3,584.9 737.0,582.0 726.9,586.3 718.1,583.4 718.1,590.7 722.5,593.6 710.9,595.1 700.7,600.9 692.0,609.6 681.8,614.0 667.2,619.8 655.6,624.1 648.3,630.0 644.0,634.3 638.2,644.5 629.4,651.8 623.6,653.2 614.9,649.6 607.6,651.8 609.1,657.6 601.8,661.9 600.0,659.0 593.0,648.9 584.3,644.5 572.7,647.4 566.8,651.8 561.0,645.9 549.4,647.4 543.6,641.6 536.3,634.3 529.0,638.7 523.2,634.3 514.5,627.0 505.8,621.2 504.3,614.0 497.0,609.6 488.3,611.0 478.1,614.0 463.6,618.3 450.5,618.3 441.8,615.4 436.0,609.6 430.2,600.9 427.2,593.6 421.4,587.8 433.1,590.7 436.0,596.5 444.7,599.4 456.3,598.0 450.5,592.1 456.3,593.6 460.7,586.3 456.3,580.5 450.5,574.7 444.7,568.9 438.9,563.1 433.1,564.5 427.2,557.2 421.4,552.9 417.1,547.1 421.4,542.7 430.2,547.1 438.9,545.6 440.3,539.8 433.1,534.0 421.4,528.2 412.7,528.2 405.4,523.8 401.1,515.1 398.2,506.4 392.3,499.1 389.4,488.9 383.6,478.7 380.7,470.0 383.6,480.0" fill="none" stroke="#fde725" stroke-width="2.2" stroke-linejoin="round" stroke-linecap="round"/>
<polygon points="151.6,426.5 161.1,428.0 168.3,423.6 178.5,430.2 181.4,435.3 187.2,430.2 190.9,428.0 193.1,436.7 198.9,441.1 201.8,449.8 204.7,461.4 201.8,473.1 197.4,478.9 196.0,487.6 191.6,495.6 184.3,489.1 175.6,480.3 169.8,473.1 165.4,461.4 164.0,452.7 158.2,448.3 153.8,439.6 155.3,435.3" fill="none" stroke="#fde725" stroke-width="2.2" stroke-linejoin="round" stroke-linecap="round"/>
<polygon points="200.3,473.1 210.5,471.6 216.3,468.7 220.7,476.0 219.2,484.7 223.6,490.5 220.7,500.7 214.9,505.1 207.6,500.7 201.8,490.5 197.4,481.8" fill="none" stroke="#fde725" stroke-width="2.2" stroke-linejoin="round" stroke-linecap="round"/>
<polygon points="215.6,417.8 220.7,412.7 228.0,411.3 233.8,414.9 236.0,423.6 235.2,433.8 229.4,437.4 225.1,439.6 220.7,436.7 218.5,429.4" fill="none" stroke="#fde725" stroke-width="2.2" stroke-linejoin="round" stroke-linecap="round"/>
<polygon points="222.9,444.0 226.5,442.5 229.4,449.8 228.0,458.5 222.9,462.2 223.6,452.7" fill="none" stroke="#fde725" stroke-width="2.2" stroke-linejoin="round" stroke-linecap="round"/>
<polygon points="129.8,506.5 137.8,503.6 146.5,508.0 150.2,516.7 145.1,524.0 150.9,529.8 150.2,536.3 145.1,540.0 141.4,545.8 135.6,538.5 137.1,531.2 131.3,524.0 129.8,516.7" fill="none" stroke="#fde725" stroke-width="2.2" stroke-linejoin="round" stroke-linecap="round"/>
<polygon points="270.1,491.2 275.9,489.1 281.8,496.3 287.6,502.1 290.5,492.0 294.1,496.3 294.1,503.6 289.0,506.5 287.6,513.8 281.8,515.2 281.0,519.6 278.9,510.9 275.9,502.1" fill="none" stroke="#fde725" stroke-width="2.2" stroke-linejoin="round" stroke-linecap="round"/>
<polygon points="294.1,529.0 293.7,531.0 292.7,532.6 291.3,533.5 289.7,533.5 288.2,532.6 287.2,531.0 286.9,529.0 287.2,527.1 288.2,525.5 289.7,524.6 291.3,524.6 292.7,525.5 293.7,527.1" fill="none" stroke="#fde725" stroke-width="2.2" stroke-linejoin="round" stroke-linecap="round"/>
<polygon points="303.2,555.9 302.8,557.9 301.7,559.4 300.1,560.2 298.3,560.2 296.7,559.4 295.6,557.9 295.2,555.9 295.6,554.0 296.7,552.5 298.3,551.7 300.1,551.7 301.7,552.5 302.8,554.0" fill="none" stroke="#fde725" stroke-width="2.2" stroke-linejoin="round" stroke-linecap="round"/>
<polygon points="148.1,443.3 147.8,445.2 146.9,446.7 145.7,447.5 144.4,447.5 143.2,446.7 142.4,445.2 142.1,443.3 142.4,441.3 143.2,439.8 144.4,439.0 145.7,439.0 146.9,439.8 147.8,441.3" fill="none" stroke="#fde725" stroke-width="2.2" stroke-linejoin="round" stroke-linecap="round"/>
<polygon points="141.6,433.8 141.5,434.9 141.2,435.8 140.7,436.3 140.2,436.3 139.7,435.8 139.3,434.9 139.2,433.8 139.3,432.7 139.7,431.8 140.2,431.3 140.7,431.3 141.2,431.8 141.5,432.7" fill="none" stroke="#fde725" stroke-width="2.2" stroke-linejoin="round" stroke-linecap="round"/>
<polygon points="346.3,468.3 346.0,469.7 345.1,470.9 343.8,471.6 342.4,471.6 341.1,470.9 340.2,469.7 339.9,468.3 340.2,466.8 341.1,465.6 342.4,465.0 343.8,465.0 345.1,465.6 346.0,466.8" fill="none" stroke="#fde725" stroke-width="2.2" stroke-linejoin="round" stroke-linecap="round"/>
<polygon points="220.7,508.7 220.3,510.7 219.3,512.3 217.9,513.2 216.3,513.2 214.8,512.3 213.8,510.7 213.5,508.7 213.8,506.7 214.8,505.1 216.3,504.2 217.9,504.2 219.3,505.1 220.3,506.7" fill="none" stroke="#fde725" stroke-width="2.2" stroke-linejoin="round" stroke-linecap="round"/>
<polygon points="164.9,436.0 164.7,437.1 164.0,438.0 163.1,438.5 162.0,438.5 161.0,438.0 160.4,437.1 160.1,436.0 160.4,434.9 161.0,434.0 162.0,433.4 163.1,433.4 164.0,434.0 164.7,434.9" fill="none" stroke="#fde725" stroke-width="2.2" stroke-linejoin="round" stroke-linecap="round"/>
<polygon points="162.5,441.1 168.3,442.5 168.3,448.3 164.0,451.3 159.6,448.3" fill="none" stroke="#fde725" stroke-width="2.2" stroke-linejoin="round" stroke-linecap="round"/>
<polygon points="179.2,433.8 183.6,429.4 187.2,430.2 190.9,428.0 190.2,432.3 185.1,436.0 180.7,436.0" fill="none" stroke="#fde725" stroke-width="2.2" stroke-linejoin="round" stroke-linecap="round"/>
<polygon points="183.0,214.1 182.6,215.5 181.6,216.6 180.2,217.2 178.6,217.2 177.1,216.6 176.1,215.5 175.8,214.1 176.1,212.7 177.1,211.6 178.6,211.0 180.2,211.0 181.6,211.6 182.6,212.7" fill="none" stroke="#fde725" stroke-width="2.2" stroke-linejoin="round" stroke-linecap="round"/>
<polygon points="248.2,186.1 248.5,187.5 247.7,189.3 246.1,191.1 243.9,192.7 241.6,193.6 239.7,193.7 238.4,193.0 238.2,191.5 238.9,189.7 240.6,187.9 242.8,186.3 245.1,185.4 247.0,185.3" fill="#fde725" stroke="#fde725" stroke-width="1.4"/>
<polygon points="258.1,381.5 261.8,370.4 269.2,360.5 275.3,361.8 276.1,372.8 269.2,380.2 261.8,386.4" fill="none" stroke="#fde725" stroke-width="2.2" stroke-linejoin="round" stroke-linecap="round"/>
<polygon points="341.8,365.5 350.4,363.0 355.3,366.7 354.1,370.4 345.5,371.6" fill="none" stroke="#fde725" stroke-width="2.2" stroke-linejoin="round" stroke-linecap="round"/>
<polygon points="359.0,348.2 368.8,345.3 370.6,351.9 365.1,355.1 359.7,354.4" fill="none" stroke="#fde725" stroke-width="2.2" stroke-linejoin="round" stroke-linecap="round"/>
<polygon points="409.4,297.4 409.5,298.2 409.0,299.0 408.1,299.7 407.0,300.1 405.9,300.2 405.0,299.8 404.5,299.2 404.5,298.3 405.0,297.5 405.8,296.8 406.9,296.4 408.0,296.4 408.9,296.7" fill="#fde725" stroke="#fde725" stroke-width="1.4"/>
<polygon points="346.0,468.3 345.7,469.8 344.9,471.0 343.7,471.6 342.3,471.6 341.1,471.0 340.3,469.8 340.0,468.3 340.3,466.9 341.1,465.7 342.3,465.0 343.7,465.0 344.9,465.7 345.7,466.9" fill="none" stroke="#fde725" stroke-width="2.2" stroke-linejoin="round" stroke-linecap="round"/>
<polygon points="366.2,399.9 365.9,401.7 365.0,403.2 363.8,404.0 362.5,404.0 361.3,403.2 360.5,401.7 360.2,399.9 360.5,398.1 361.3,396.6 362.5,395.8 363.8,395.8 365.0,396.6 365.9,398.1" fill="none" stroke="#fde725" stroke-width="2.2" stroke-linejoin="round" stroke-linecap="round"/>
<polygon points="398.2,621.2 404.0,615.4 412.7,613.2 421.4,616.9 430.2,619.8 438.9,624.1 441.8,630.0 436.0,637.2 427.2,640.1 418.5,638.7 409.8,637.2 402.5,632.9" fill="none" stroke="#fde725" stroke-width="2.2" stroke-linejoin="round" stroke-linecap="round"/>
<polygon points="385.1,644.5 389.4,637.2 398.2,635.8 406.9,638.7 410.5,644.5 405.4,650.3 395.3,653.2 386.5,650.3" fill="none" stroke="#fde725" stroke-width="2.2" stroke-linejoin="round" stroke-linecap="round"/>
<polygon points="376.3,636.9 375.7,638.7 373.9,640.1 371.3,640.8 368.4,640.8 365.8,640.1 364.0,638.7 363.3,636.9 364.0,635.2 365.8,633.8 368.4,633.0 371.3,633.0 373.9,633.8 375.7,635.2" fill="none" stroke="#fde725" stroke-width="2.2" stroke-linejoin="round" stroke-linecap="round"/>
<polygon points="402.5,577.6 408.3,579.1 411.3,586.3 405.4,584.9" fill="none" stroke="#fde725" stroke-width="2.2" stroke-linejoin="round" stroke-linecap="round"/>
<polygon points="404.8,529.9 404.6,531.1 403.9,532.1 402.8,532.6 401.7,532.6 400.6,532.1 399.9,531.1 399.6,529.9 399.9,528.7 400.6,527.7 401.7,527.2 402.8,527.2 403.9,527.7 404.6,528.7" fill="none" stroke="#fde725" stroke-width="2.2" stroke-linejoin="round" stroke-linecap="round"/>
<polygon points="415.8,537.2 415.6,537.9 415.2,538.4 414.5,538.7 413.8,538.7 413.2,538.4 412.7,537.9 412.6,537.2 412.7,536.5 413.2,535.9 413.8,535.6 414.5,535.6 415.2,535.9 415.6,536.5" fill="#fde725" stroke="#fde725" stroke-width="1.4"/>
<polygon points="468.0,634.3 479.6,632.9 488.3,638.7 479.6,643.8 469.4,641.6" fill="none" stroke="#fde725" stroke-width="2.2" stroke-linejoin="round" stroke-linecap="round"/>
<polygon points="521.8,648.1 527.6,638.7 529.0,648.9" fill="none" stroke="#fde725" stroke-width="2.2" stroke-linejoin="round" stroke-linecap="round"/>
<polygon points="379.3,500.5 385.1,498.4 390.9,503.4 388.0,508.5 382.2,504.9" fill="none" stroke="#fde725" stroke-width="2.2" stroke-linejoin="round" stroke-linecap="round"/>
<polygon points="797.4,577.6 806.8,582.0 814.4,589.2 812.7,592.1 803.9,589.2 798.1,583.4" fill="none" stroke="#fde725" stroke-width="2.2" stroke-linejoin="round" stroke-linecap="round"/>
<polygon points="821.6,527.4 821.2,528.7 819.9,529.8 818.0,530.4 816.0,530.4 814.2,529.8 812.9,528.7 812.4,527.4 812.9,526.1 814.2,525.1 816.0,524.5 818.0,524.5 819.9,525.1 821.2,526.1" fill="none" stroke="#fde725" stroke-width="2.2" stroke-linejoin="round" stroke-linecap="round"/>
<polygon points="805.4,526.0 805.2,527.1 804.6,528.0 803.7,528.5 802.7,528.5 801.8,528.0 801.2,527.1 801.0,526.0 801.2,524.9 801.8,524.0 802.7,523.4 803.7,523.4 804.6,524.0 805.2,524.9" fill="#fde725" stroke="#fde725" stroke-width="1.4"/>
<polygon points="763.2,644.5 767.6,648.9 771.9,659.0 769.0,666.3 758.9,667.8 754.5,663.4 758.9,653.2" fill="none" stroke="#fde725" stroke-width="2.2" stroke-linejoin="round" stroke-linecap="round"/>
<polygon points="776.3,641.6 783.6,643.0 789.4,656.1 789.4,667.8 782.1,680.8 779.2,670.7 776.3,659.0 773.4,647.4" fill="none" stroke="#fde725" stroke-width="2.2" stroke-linejoin="round" stroke-linecap="round"/>
<polygon points="610.9,693.6 610.7,694.4 610.2,695.1 609.5,695.4 608.7,695.4 608.0,695.1 607.5,694.4 607.3,693.6 607.5,692.9 608.0,692.2 608.7,691.9 609.5,691.9 610.2,692.2 610.7,692.9" fill="#fde725" stroke="#fde725" stroke-width="1.4"/>
<polygon points="822.1,664.1 818.5,669.2 822.1,676.5" fill="none" stroke="#fde725" stroke-width="2.2" stroke-linejoin="round" stroke-linecap="round"/>
<polygon points="764.4,778.1 773.1,774.4 786.8,776.8 788.0,788.0 784.3,796.7 778.1,795.5 771.9,788.0 765.7,784.3" fill="none" stroke="#fde725" stroke-width="2.2" stroke-linejoin="round" stroke-linecap="round"/>
<polygon points="728.4,810.4 734.6,802.9 742.0,805.4 747.0,810.4 742.0,814.1 735.8,811.6 730.8,812.9" fill="none" stroke="#fde725" stroke-width="2.2" stroke-linejoin="round" stroke-linecap="round"/>
<polygon points="738.7,777.6 738.5,778.3 738.1,778.8 737.4,779.1 736.7,779.1 736.1,778.8 735.6,778.3 735.5,777.6 735.6,776.9 736.1,776.3 736.7,776.0 737.4,776.0 738.1,776.3 738.5,776.9" fill="#fde725" stroke="#fde725" stroke-width="1.4"/>
<polygon points="610.8,693.6 610.7,694.3 610.2,695.0 609.4,695.3 608.6,695.3 607.9,695.0 607.4,694.3 607.2,693.6 607.4,692.8 607.9,692.2 608.6,691.8 609.4,691.8 610.2,692.2 610.7,692.8" fill="#fde725" stroke="#fde725" stroke-width="1.4"/>
<polygon points="728.1,350.8 728.8,353.7 728.5,356.0 727.4,357.3 725.8,357.0 724.0,355.4 722.7,352.8 722.1,349.9 722.3,347.6 723.4,346.3 725.1,346.6 726.8,348.2" fill="none" stroke="#fde725" stroke-width="2.2" stroke-linejoin="round" stroke-linecap="round"/>
<polygon points="747.8,353.2 746.5,354.6 743.4,355.2 739.4,354.9 735.5,353.8 732.9,352.2 732.1,350.4 733.4,349.0 736.5,348.4 740.5,348.6 744.4,349.8 747.1,351.4" fill="none" stroke="#fde725" stroke-width="2.2" stroke-linejoin="round" stroke-linecap="round"/>
<polygon points="758.9,361.6 757.7,362.4 755.6,362.3 753.2,361.3 751.2,359.7 750.0,358.0 750.1,356.5 751.3,355.7 753.4,355.8 755.8,356.8 757.8,358.4 759.0,360.1" fill="none" stroke="#fde725" stroke-width="2.2" stroke-linejoin="round" stroke-linecap="round"/>
<polygon points="736.3,363.8 736.4,365.1 735.6,366.7 734.0,368.2 732.1,369.2 730.3,369.4 729.1,368.8 728.9,367.5 729.7,365.9 731.3,364.4 733.3,363.4 735.1,363.2" fill="none" stroke="#fde725" stroke-width="2.2" stroke-linejoin="round" stroke-linecap="round"/>
<polygon points="749.5,367.1 749.7,368.5 748.8,370.1 747.1,371.5 745.0,372.3 743.2,372.3 742.0,371.4 741.8,370.0 742.7,368.4 744.5,367.0 746.5,366.2 748.4,366.2" fill="none" stroke="#fde725" stroke-width="2.2" stroke-linejoin="round" stroke-linecap="round"/>
<polygon points="770.1,379.5 768.1,380.9 763.6,381.2 757.9,380.2 752.4,378.2 748.6,375.7 747.6,373.5 749.6,372.1 754.1,371.8 759.8,372.9 765.3,374.9 769.1,377.3" fill="none" stroke="#fde725" stroke-width="2.2" stroke-linejoin="round" stroke-linecap="round"/>
<polygon points="784.6,386.3 782.9,388.0 779.9,388.6 776.3,387.9 773.1,386.1 771.1,383.7 770.9,381.3 772.6,379.6 775.6,379.0 779.3,379.7 782.5,381.5 784.4,383.9" fill="none" stroke="#fde725" stroke-width="2.2" stroke-linejoin="round" stroke-linecap="round"/>
<polygon points="779.0,369.7 777.7,370.5 774.9,370.7 771.3,370.0 767.9,368.8 765.6,367.3 764.9,365.9 766.2,365.0 769.0,364.9 772.5,365.5 776.0,366.8 778.3,368.3" fill="none" stroke="#fde725" stroke-width="2.2" stroke-linejoin="round" stroke-linecap="round"/>
<polygon points="737.1,320.2 737.6,322.4 736.8,324.7 734.9,326.5 732.4,327.3 730.0,326.8 728.3,325.3 727.8,323.0 728.6,320.7 730.5,318.9 733.0,318.2 735.4,318.6" fill="none" stroke="#fde725" stroke-width="2.2" stroke-linejoin="round" stroke-linecap="round"/>
<polygon points="721.1,314.6 721.5,316.2 720.5,318.4 718.6,320.6 716.1,322.1 713.8,322.7 712.2,322.1 711.9,320.5 712.8,318.3 714.8,316.1 717.3,314.5 719.6,314.0" fill="none" stroke="#fde725" stroke-width="2.2" stroke-linejoin="round" stroke-linecap="round"/>
<polygon points="750.1,330.0 749.9,330.6 749.4,331.0 748.7,331.1 748.0,331.0 747.4,330.6 747.2,330.0 747.4,329.4 748.0,329.0 748.7,328.8 749.4,329.0 749.9,329.4" fill="none" stroke="#fde725" stroke-width="2.2" stroke-linejoin="round" stroke-linecap="round"/>
<polygon points="690.2,305.9 689.4,307.5 686.6,309.2 682.5,310.7 678.2,311.5 674.8,311.4 673.4,310.4 674.2,308.9 677.0,307.1 681.1,305.6 685.4,304.8 688.7,304.9" fill="none" stroke="#fde725" stroke-width="2.2" stroke-linejoin="round" stroke-linecap="round"/>
<polygon points="712.8,303.9 712.2,305.8 709.3,308.3 704.8,310.8 700.1,312.6 696.2,313.2 694.4,312.5 695.0,310.6 697.9,308.0 702.4,305.5 707.1,303.7 711.0,303.1" fill="none" stroke="#fde725" stroke-width="2.2" stroke-linejoin="round" stroke-linecap="round"/>
<polyline points="393.1,480.0 388.0,465.2 383.6,453.6 379.3,439.0 373.4,427.4 369.8,417.2 369.1,407.0 371.3,395.4 368.4,388.1 371.3,376.5 374.9,370.7 378.5,364.9 383.6,351.8 389.4,340.2 398.2,328.5 409.8,315.4 421.4,306.7 434.5,298.7" fill="none" stroke="#7ad151" stroke-width="2.2" stroke-linejoin="round" stroke-linecap="round"/>
<polyline points="468.0,287.1 476.7,286.4 486.9,289.3 514.5,287.8 558.1,290.7 600.0,296.5 580.0,298.0 594.5,300.2 609.1,299.4 622.2,302.3 635.3,308.2 641.1,314.0 655.6,315.4 667.2,312.5 678.9,314.0 690.5,318.3 700.7,325.6 703.6,331.4 710.9,335.8 719.6,338.7 731.2,343.1 725.4,344.5 710.9,344.5 702.1,346.0 699.2,351.8 702.1,360.5 706.5,367.8 713.8,372.1 721.0,373.6 721.0,380.9 725.4,389.6 719.6,398.3 726.9,402.7 737.0,410.0 744.3,415.8 748.7,420.1 758.9,424.5 767.6,427.4 774.9,427.4 761.8,431.8 760.3,434.7 769.0,434.7 777.8,428.9 786.5,424.5 796.7,427.4 789.4,431.8 783.6,436.1 776.3,440.5 777.8,449.2 785.0,449.2 774.9,452.1 773.4,462.3 776.3,471.0 780.7,480.0 777.0,470.0 779.2,480.2 773.4,486.0 774.9,496.2 767.6,500.5 753.0,499.8 741.4,504.2 745.8,513.6 741.4,525.3 745.8,535.4 754.5,541.3 758.9,545.6 753.0,551.4 744.3,555.8 735.6,557.2 740.0,564.5 741.4,574.7 737.0,574.7 725.4,577.6 716.7,580.5 710.9,584.9 708.0,590.7 696.3,596.5 687.6,603.8 678.9,609.6 667.2,615.4 655.6,621.2 644.0,628.5 638.2,630.0 623.6,625.6 609.1,630.0 594.5,632.9 600.0,634.3 587.2,637.2 579.9,638.7 568.3,637.2 566.8,643.0 558.1,640.1 552.3,632.9 543.6,628.5 533.4,630.0 520.3,625.6 508.7,622.7 513.0,618.3 517.4,612.5 508.7,606.7 500.0,605.2 485.4,608.1 470.9,611.8 456.3,615.4 441.8,614.0 433.1,609.6 427.2,603.8 430.2,599.4 438.9,600.9 450.5,600.9 459.2,598.0 466.5,593.6 465.1,586.3 469.4,577.6 463.6,571.8 454.9,566.0 441.8,564.5 440.3,557.2 444.7,552.9 453.4,548.5 458.5,542.0 450.5,536.9 438.9,531.1 427.2,525.3 418.5,519.4 411.3,512.2 402.5,504.9 398.2,496.2 395.3,484.5 389.4,470.0 393.1,480.0" fill="none" stroke="#7ad151" stroke-width="2.2" stroke-linejoin="round" stroke-linecap="round"/>
<polygon points="219.2,422.2 223.6,414.9 229.4,414.2 233.1,422.2 231.6,430.9 225.1,433.1 220.7,429.4" fill="none" stroke="#7ad151" stroke-width="2.2" stroke-linejoin="round" stroke-linecap="round"/>
<polygon points="132.7,508.7 139.3,506.5 145.8,510.9 147.3,518.1 142.9,523.2 148.0,530.5 143.6,537.8 140.0,540.7 137.1,534.1 134.2,524.0" fill="none" stroke="#7ad151" stroke-width="2.2" stroke-linejoin="round" stroke-linecap="round"/>
<polygon points="402.5,622.7 408.3,616.9 418.5,615.4 428.7,618.3 440.3,628.5 436.0,635.8 424.3,638.0 415.6,634.3 405.4,630.0" fill="none" stroke="#7ad151" stroke-width="2.2" stroke-linejoin="round" stroke-linecap="round"/>
<polygon points="388.0,644.5 392.3,639.4 401.1,638.7 407.6,643.8 402.5,648.9 393.8,650.3" fill="none" stroke="#7ad151" stroke-width="2.2" stroke-linejoin="round" stroke-linecap="round"/>
<polygon points="153.8,425.1 162.5,423.6 164.0,429.4 158.2,430.9" fill="none" stroke="#7ad151" stroke-width="2.2" stroke-linejoin="round" stroke-linecap="round"/>
<polygon points="777.8,659.0 785.0,657.6 787.9,664.9 782.1,669.2 777.0,666.3" fill="none" stroke="#7ad151" stroke-width="2.2" stroke-linejoin="round" stroke-linecap="round"/>
<polyline points="385.1,434.7 383.6,431.8 380.0,423.0 379.3,412.9 380.7,401.2 382.2,389.6 381.4,379.4 387.3,375.1 390.2,364.9 393.8,354.7 398.2,347.4 405.4,340.9 414.2,335.8 422.9,327.1 433.1,321.3 441.8,315.4 448.3,311.8 452.0,314.0 453.4,318.3 468.0,312.5 479.6,308.2 491.2,302.3 495.6,300.9 488.3,306.7 481.8,313.3 485.4,316.2 494.1,316.9 502.9,314.0 514.5,309.6 529.0,305.3 540.7,304.5 549.4,302.3 558.1,304.5 572.7,307.4 587.2,311.1 600.0,311.1 600.1,311.8 603.3,318.3 612.0,324.2 622.2,321.3 628.0,328.5 630.9,322.7 641.1,318.3 652.7,319.8 658.5,322.7 651.3,332.9 658.5,335.8 667.2,337.2 673.1,344.5 687.6,344.5 681.8,340.2 673.1,343.1 665.8,340.2 655.6,338.7 646.9,341.6 645.4,347.4 651.3,353.2 658.5,357.6 665.8,363.4 674.5,367.8 684.7,373.6 690.5,375.1 689.1,380.9 684.7,385.2 689.1,391.0 693.4,398.3 693.4,404.1 700.7,408.5 706.5,414.3 709.4,420.1 713.8,425.9 717.4,431.8 716.7,437.6 712.3,439.0 715.2,447.8 713.8,455.0 716.7,462.3 716.0,471.0 714.5,480.0 715.2,470.0 716.0,484.5 716.7,499.1 716.0,513.6 719.6,525.3 724.0,538.3 727.6,548.5 722.5,552.9 718.1,563.1 710.9,571.8 703.6,580.5 696.3,589.2 687.6,596.5 678.9,602.3 670.2,605.2 661.4,609.6 652.7,614.0 641.1,619.8 630.9,612.5 620.7,616.9 609.1,621.2 600.0,625.6 587.2,630.0 575.6,628.5 566.8,627.0 556.7,630.0 549.4,622.7 540.7,621.2 534.9,615.4 526.1,609.6 514.5,606.7 508.7,600.9 500.0,593.6 488.3,595.1 479.6,599.4 470.9,598.0 470.9,590.7 482.5,584.9 473.8,586.3 475.2,580.5 479.6,573.2 484.0,566.0 485.4,558.7 484.0,551.4 479.6,544.2 472.3,538.3 469.4,531.1 456.3,534.0 444.7,531.1 433.1,526.7 422.9,520.9 421.4,515.1 424.3,506.4 428.7,500.5 422.9,494.7 414.9,486.0" fill="none" stroke="#22a884" stroke-width="2.2" stroke-linejoin="round" stroke-linecap="round"/>
<polygon points="166.9,459.2 175.6,455.6 187.2,457.1 201.8,461.4 200.3,470.2 193.1,473.1 187.2,487.6 181.4,481.8 172.7,473.1 168.3,465.8" fill="none" stroke="#22a884" stroke-width="2.2" stroke-linejoin="round" stroke-linecap="round"/>
<polygon points="201.8,474.5 207.6,475.2 213.4,483.2 210.5,490.5 214.9,496.3 210.5,500.7 204.7,493.4 201.8,484.7" fill="none" stroke="#22a884" stroke-width="2.2" stroke-linejoin="round" stroke-linecap="round"/>
<polygon points="402.5,624.1 406.9,618.3 418.5,616.9 427.2,618.3 438.9,627.0 436.0,634.3 424.3,637.2 415.6,632.9 405.4,630.0" fill="none" stroke="#22a884" stroke-width="2.2" stroke-linejoin="round" stroke-linecap="round"/>
<polygon points="389.4,643.8 395.3,640.1 402.5,643.0 399.6,647.4 392.3,648.1" fill="none" stroke="#22a884" stroke-width="2.2" stroke-linejoin="round" stroke-linecap="round"/>
<polygon points="645.4,606.7 649.8,601.6 654.2,600.9 652.7,606.7 648.3,610.3" fill="none" stroke="#22a884" stroke-width="2.2" stroke-linejoin="round" stroke-linecap="round"/>
<polygon points="773.6,781.1 773.3,782.4 772.5,783.4 771.3,784.0 770.0,784.0 768.8,783.4 767.9,782.4 767.6,781.1 767.9,779.8 768.8,778.7 770.0,778.1 771.3,778.1 772.5,778.7 773.3,779.8" fill="none" stroke="#22a884" stroke-width="2.2" stroke-linejoin="round" stroke-linecap="round"/>
<polyline points="417.1,471.0 422.9,472.5 430.2,475.4 436.0,471.0 433.1,465.2 428.7,459.4 425.8,450.7 418.5,444.9 412.7,439.0 408.3,431.8 412.0,424.5 414.9,414.3 412.7,411.4 412.0,404.1 409.8,394.7 415.6,389.6 424.3,382.3 430.2,375.1 437.4,372.1 443.2,369.2 441.8,364.9 447.6,362.0 456.3,354.7 468.0,348.9 478.1,343.1 485.4,342.3 492.7,338.7 501.4,335.8 510.1,338.0 517.4,338.7 520.3,343.8 530.5,340.9 540.7,342.3 549.4,346.0 558.1,351.8 566.8,357.6 578.5,359.8 588.7,358.3 590.1,363.4 600.0,362.0 606.2,362.0 606.2,366.3 616.4,372.1 623.6,376.5 628.0,382.3 633.8,388.1 638.2,395.4 644.0,395.4 638.2,396.9 629.4,398.3 635.3,401.2 639.6,405.6 642.5,411.4 648.3,417.2 654.2,424.5 660.0,431.8 667.2,436.1 668.7,441.9 673.1,447.8 678.2,455.0 673.1,459.4 671.6,468.1 668.7,473.9 674.5,476.8 677.4,480.0 670.2,470.0 674.5,477.3 680.3,488.9 684.7,499.1 681.8,507.8 684.7,512.2 678.9,516.5 677.4,523.8 681.8,531.1 686.2,536.9 689.1,542.0 683.2,548.5 680.3,554.3 673.1,560.2 667.2,567.4 662.9,570.3 655.6,566.0 649.8,567.4 648.3,571.8 644.0,573.2 646.9,583.4 641.1,586.3 633.8,589.2 625.1,595.1 617.8,600.9 612.0,599.4 604.7,600.9 598.9,608.1 591.6,610.3 580.0,609.6 575.6,612.5 563.9,614.0 555.2,605.2 543.6,596.5 530.5,584.9 526.1,582.0 518.9,586.3 515.9,579.1 513.0,571.8 514.5,566.0 518.9,560.2 524.7,555.8 520.3,551.4 517.4,544.2 508.7,535.4 501.4,529.6 497.0,522.3 491.2,515.1 491.2,506.4 486.9,502.7 479.6,506.4 470.9,504.9 462.1,501.3" fill="none" stroke="#2a788e" stroke-width="2.2" stroke-linejoin="round" stroke-linecap="round"/>
<polygon points="179.2,460.7 182.9,458.5 187.2,461.4 193.1,459.2 198.9,460.7 200.3,465.8 194.5,468.7 187.2,467.2 181.4,464.3" fill="none" stroke="#2a788e" stroke-width="2.2" stroke-linejoin="round" stroke-linecap="round"/>
<polygon points="414.2,622.7 422.9,619.8 430.2,621.2 436.0,627.0 433.1,632.9 424.3,634.3 418.5,628.5" fill="none" stroke="#2a788e" stroke-width="2.2" stroke-linejoin="round" stroke-linecap="round"/>
<polygon points="431.6,520.9 436.0,516.5 447.6,515.8 452.0,518.0 444.7,521.6 436.0,523.1" fill="none" stroke="#2a788e" stroke-width="2.2" stroke-linejoin="round" stroke-linecap="round"/>
<polygon points="462.5,521.6 462.1,522.5 461.0,523.2 459.4,523.6 457.6,523.6 456.0,523.2 454.9,522.5 454.5,521.6 454.9,520.8 456.0,520.1 457.6,519.7 459.4,519.7 461.0,520.1 462.1,520.8" fill="none" stroke="#2a788e" stroke-width="2.2" stroke-linejoin="round" stroke-linecap="round"/>
<polygon points="472.3,516.5 472.1,517.6 471.5,518.4 470.6,518.9 469.7,518.9 468.8,518.4 468.2,517.6 467.9,516.5 468.2,515.5 468.8,514.7 469.7,514.2 470.6,514.2 471.5,514.7 472.1,515.5" fill="none" stroke="#2a788e" stroke-width="2.2" stroke-linejoin="round" stroke-linecap="round"/>
<polygon points="485.4,579.1 494.1,570.3 500.0,568.9 507.2,573.2 504.3,580.5 497.0,586.3 491.2,590.7 482.5,593.6 475.2,595.1 478.1,589.2 488.3,584.9" fill="none" stroke="#2a788e" stroke-width="2.2" stroke-linejoin="round" stroke-linecap="round"/>
<polygon points="505.8,424.5 514.5,425.2 523.2,425.9 529.0,426.7 529.0,431.0 519.6,434.7 518.1,430.3 511.6,428.1" fill="none" stroke="#2a788e" stroke-width="2.2" stroke-linejoin="round" stroke-linecap="round"/>
<polygon points="450.5,428.9 453.4,428.1 454.9,436.1 459.2,443.4 460.7,448.5 456.3,447.8 451.2,440.5 449.4,433.2" fill="none" stroke="#2a788e" stroke-width="2.2" stroke-linejoin="round" stroke-linecap="round"/>
<polygon points="626.5,389.6 626.1,390.6 625.1,391.3 623.7,391.7 622.1,391.7 620.7,391.3 619.7,390.6 619.3,389.6 619.7,388.6 620.7,387.9 622.1,387.5 623.7,387.5 625.1,387.9 626.1,388.6" fill="none" stroke="#2a788e" stroke-width="2.2" stroke-linejoin="round" stroke-linecap="round"/>
<polygon points="661.3,382.3 661.1,382.9 660.7,383.4 660.0,383.7 659.3,383.7 658.7,383.4 658.2,382.9 658.1,382.3 658.2,381.7 658.7,381.2 659.3,381.0 660.0,381.0 660.7,381.2 661.1,381.7" fill="none" stroke="#2a788e" stroke-width="2.2" stroke-linejoin="round" stroke-linecap="round"/>
<polygon points="647.8,455.3 647.6,456.1 646.9,456.7 646.0,457.1 644.9,457.1 643.9,456.7 643.3,456.1 643.0,455.3 643.3,454.5 643.9,453.9 644.9,453.6 646.0,453.6 646.9,453.9 647.6,454.5" fill="none" stroke="#2a788e" stroke-width="2.2" stroke-linejoin="round" stroke-linecap="round"/>
<polygon points="651.4,551.4 651.2,552.4 650.8,553.2 650.2,553.6 649.4,553.6 648.8,553.2 648.4,552.4 648.2,551.4 648.4,550.5 648.8,549.7 649.4,549.3 650.2,549.3 650.8,549.7 651.2,550.5" fill="none" stroke="#2a788e" stroke-width="2.2" stroke-linejoin="round" stroke-linecap="round"/>
<polygon points="680.9,545.6 680.7,546.1 680.1,546.6 679.3,546.8 678.4,546.8 677.6,546.6 677.1,546.1 676.9,545.6 677.1,545.1 677.6,544.7 678.4,544.4 679.3,544.4 680.1,544.7 680.7,545.1" fill="none" stroke="#2a788e" stroke-width="2.2" stroke-linejoin="round" stroke-linecap="round"/>
<polygon points="675.8,510.7 675.6,512.2 675.0,513.4 674.2,514.0 673.3,514.0 672.5,513.4 672.0,512.2 671.8,510.7 672.0,509.2 672.5,508.1 673.3,507.4 674.2,507.4 675.0,508.1 675.6,509.2" fill="none" stroke="#2a788e" stroke-width="2.2" stroke-linejoin="round" stroke-linecap="round"/>
<polygon points="533.4,478.7 537.8,475.8 543.6,478.0 546.5,472.9 552.3,471.5 558.1,474.4 562.5,471.5 563.9,475.8 558.1,480.2 553.8,478.7 549.4,483.1 543.6,486.0 536.3,484.5" fill="none" stroke="#414487" stroke-width="1.8" stroke-linejoin="round" stroke-linecap="round"/>
<polygon points="540.2,480.5 539.9,481.4 539.3,482.2 538.3,482.6 537.2,482.6 536.3,482.2 535.6,481.4 535.4,480.5 535.6,479.5 536.3,478.7 537.2,478.3 538.3,478.3 539.3,478.7 539.9,479.5" fill="none" stroke="#414487" stroke-width="1.8" stroke-linejoin="round" stroke-linecap="round"/>
<polygon points="564.5,498.9 563.0,500.7 561.2,501.7 559.3,501.7 557.7,500.8 556.8,499.2 556.8,497.1 557.6,494.9 559.0,493.1 560.9,492.1 562.8,492.1 564.3,493.0 565.2,494.6 565.3,496.7" fill="none" stroke="#414487" stroke-width="1.8" stroke-linejoin="round" stroke-linecap="round"/>
<polygon points="550.6,495.0 550.5,495.5 550.1,495.9 549.7,496.2 549.1,496.2 548.6,495.9 548.3,495.5 548.2,495.0 548.3,494.5 548.6,494.1 549.1,493.8 549.7,493.8 550.1,494.1 550.5,494.5" fill="none" stroke="#414487" stroke-width="1.8" stroke-linejoin="round" stroke-linecap="round"/>
<polygon points="553.8,555.8 553.6,557.0 552.9,558.0 552.1,558.5 551.1,558.5 550.2,558.0 549.6,557.0 549.4,555.8 549.6,554.6 550.2,553.6 551.1,553.1 552.1,553.1 552.9,553.6 553.6,554.6" fill="none" stroke="#414487" stroke-width="1.8" stroke-linejoin="round" stroke-linecap="round"/>
<polygon points="492.8,587.5 492.7,588.4 492.2,589.1 491.6,589.4 490.9,589.4 490.2,589.1 489.8,588.4 489.6,587.5 489.8,586.6 490.2,585.9 490.9,585.5 491.6,585.5 492.2,585.9 492.7,586.6" fill="none" stroke="#414487" stroke-width="1.8" stroke-linejoin="round" stroke-linecap="round"/>
<polygon points="530.2,472.9 530.1,473.4 529.8,473.8 529.3,474.1 528.8,474.1 528.3,473.8 528.0,473.4 527.8,472.9 528.0,472.4 528.3,472.0 528.8,471.7 529.3,471.7 529.8,472.0 530.1,472.4" fill="none" stroke="#414487" stroke-width="1.8" stroke-linejoin="round" stroke-linecap="round"/>
<text transform="translate(464.3,282.3) rotate(-17)" text-anchor="middle" font-size="19.5" fill="#7ad151" dy="0.35em">−42</text>
<text transform="translate(402.8,461.1) rotate(63)" text-anchor="middle" font-size="19.5" fill="#22a884" dy="0.35em">−54</text>
<text transform="translate(440.6,492.1) rotate(27)" text-anchor="middle" font-size="19.5" fill="#2a788e" dy="0.35em">−64</text>
<text transform="translate(463.6,628.8) rotate(-20)" text-anchor="middle" font-size="19.5" fill="#fde725" dy="0.35em">−31</text>
<text transform="translate(428.0,606.0) rotate(58)" text-anchor="middle" font-size="19.5" fill="#fde725" dy="0.35em">−31</text>
<text transform="translate(169.8,421.4) rotate(0)" text-anchor="middle" font-size="19.5" fill="#fde725" dy="0.35em">−31</text>
<text transform="translate(185.1,447.6) rotate(-28)" text-anchor="middle" font-size="19.5" fill="#22a884" dy="0.35em">−54</text>
</g>
<path d="M198.0,101.3V829.3 M343.2,101.3V829.3 M489.0,101.3V829.3 M634.6,101.3V829.3 M780.2,101.3V829.3 M95.55,216.0H823.5 M95.55,361.6H823.5 M95.55,507.1H823.5 M95.55,653.0H823.5 M95.55,799.0H823.5" stroke="#fff" stroke-width="2.1" stroke-dasharray="2.1 3.47" fill="none"/>
<polyline points="207.2,104.6 217.5,136.6 229.8,173.5 244.6,195.7 269.2,232.6 306.1,286.7 343.0,335.9 379.9,382.7 416.8,424.5 453.7,461.4 511.6,515.4" fill="none" stroke="#0000ff" stroke-width="2.78" stroke-dasharray="2.78 4.58"/>
<path d="M501.4,494.6l7.4,7.4m0,-7.4l-7.4,7.4 M506.0,498.4l7.4,7.4m0,-7.4l-7.4,7.4 M510.6,502.3l7.4,7.4m0,-7.4l-7.4,7.4 M515.2,506.1l7.4,7.4m0,-7.4l-7.4,7.4 M519.8,510.0l7.4,7.4m0,-7.4l-7.4,7.4 M524.3,514.0l7.4,7.4m0,-7.4l-7.4,7.4 M528.7,518.0l7.4,7.4m0,-7.4l-7.4,7.4 M533.2,522.0l7.4,7.4m0,-7.4l-7.4,7.4 M537.7,526.0l7.4,7.4m0,-7.4l-7.4,7.4 M542.1,530.1l7.4,7.4m0,-7.4l-7.4,7.4 M546.6,534.1l7.4,7.4m0,-7.4l-7.4,7.4 M526.2,575.3l7.4,7.4m0,-7.4l-7.4,7.4 M530.9,579.1l7.4,7.4m0,-7.4l-7.4,7.4 M535.5,582.9l7.4,7.4m0,-7.4l-7.4,7.4 M540.2,586.6l7.4,7.4m0,-7.4l-7.4,7.4 M544.9,590.4l7.4,7.4m0,-7.4l-7.4,7.4 M549.8,593.9l7.4,7.4m0,-7.4l-7.4,7.4 M554.7,597.3l7.4,7.4m0,-7.4l-7.4,7.4 M559.6,600.8l7.4,7.4m0,-7.4l-7.4,7.4 M564.5,604.2l7.4,7.4m0,-7.4l-7.4,7.4 M569.4,607.6l7.4,7.4m0,-7.4l-7.4,7.4 M574.3,611.1l7.4,7.4m0,-7.4l-7.4,7.4 M579.3,614.5l7.4,7.4m0,-7.4l-7.4,7.4 M584.2,618.0l7.4,7.4m0,-7.4l-7.4,7.4 M589.1,621.4l7.4,7.4m0,-7.4l-7.4,7.4 M594.7,620.5l7.4,7.4m0,-7.4l-7.4,7.4 M600.5,619.0l7.4,7.4m0,-7.4l-7.4,7.4 M605.7,620.2l7.4,7.4m0,-7.4l-7.4,7.4 M610.4,624.0l7.4,7.4m0,-7.4l-7.4,7.4 M615.0,627.8l7.4,7.4m0,-7.4l-7.4,7.4 M619.7,631.5l7.4,7.4m0,-7.4l-7.4,7.4 M624.7,634.9l7.4,7.4m0,-7.4l-7.4,7.4 M629.7,638.2l7.4,7.4m0,-7.4l-7.4,7.4 M634.7,641.5l7.4,7.4m0,-7.4l-7.4,7.4 M639.6,644.9l7.4,7.4m0,-7.4l-7.4,7.4 M644.6,648.2l7.4,7.4m0,-7.4l-7.4,7.4 M649.9,651.0l7.4,7.4m0,-7.4l-7.4,7.4 M655.3,653.7l7.4,7.4m0,-7.4l-7.4,7.4 M660.7,656.4l7.4,7.4m0,-7.4l-7.4,7.4 M663.4,624.6l7.4,7.4m0,-7.4l-7.4,7.4 M668.8,627.4l7.4,7.4m0,-7.4l-7.4,7.4 M674.1,630.1l7.4,7.4m0,-7.4l-7.4,7.4 M679.4,632.9l7.4,7.4m0,-7.4l-7.4,7.4 M684.8,635.6l7.4,7.4m0,-7.4l-7.4,7.4 M690.0,638.5l7.4,7.4m0,-7.4l-7.4,7.4 M695.2,641.5l7.4,7.4m0,-7.4l-7.4,7.4 M700.4,644.5l7.4,7.4m0,-7.4l-7.4,7.4 M705.6,647.6l7.4,7.4m0,-7.4l-7.4,7.4 M710.7,650.6l7.4,7.4m0,-7.4l-7.4,7.4 M715.9,653.6l7.4,7.4m0,-7.4l-7.4,7.4 M721.1,656.6l7.4,7.4m0,-7.4l-7.4,7.4 M726.5,659.2l7.4,7.4m0,-7.4l-7.4,7.4 M732.0,661.6l7.4,7.4m0,-7.4l-7.4,7.4 M737.5,664.0l7.4,7.4m0,-7.4l-7.4,7.4 M743.0,666.5l7.4,7.4m0,-7.4l-7.4,7.4 M748.5,668.9l7.4,7.4m0,-7.4l-7.4,7.4 M754.0,671.3l7.4,7.4m0,-7.4l-7.4,7.4 M759.5,673.7l7.4,7.4m0,-7.4l-7.4,7.4 M765.0,676.2l7.4,7.4m0,-7.4l-7.4,7.4 M770.4,678.6l7.4,7.4m0,-7.4l-7.4,7.4 M776.0,681.0l7.4,7.4m0,-7.4l-7.4,7.4 M781.5,683.3l7.4,7.4m0,-7.4l-7.4,7.4 M787.0,685.7l7.4,7.4m0,-7.4l-7.4,7.4 M792.5,688.1l7.4,7.4m0,-7.4l-7.4,7.4 M798.0,690.5l7.4,7.4m0,-7.4l-7.4,7.4 M803.4,693.0l7.4,7.4m0,-7.4l-7.4,7.4 M808.9,695.4l7.4,7.4m0,-7.4l-7.4,7.4 M814.4,697.9l7.4,7.4m0,-7.4l-7.4,7.4 M819.9,700.4l7.4,7.4m0,-7.4l-7.4,7.4" stroke="#00bfbf" stroke-width="2.6" fill="none"/>
<rect x="567" y="585.2" width="9.2" height="10.6" fill="#bf00bf"/>
<rect x="593.8" y="585.2" width="9.2" height="10.6" fill="#bf00bf"/>
<rect x="663" y="667.0" width="12" height="9.6" fill="#bf00bf"/>
<rect x="758.2" y="667.8" width="9.2" height="10" fill="#bf00bf"/>
<polyline points="479.6,483.1 486.9,488.2 494.1,488.9 504.3,499.1 521.8,513.6 550.8,539.8 530.5,578.3 549.4,593.6 578.5,614.0 593.0,624.1 593.8,624.9 607.6,621.2 623.6,634.3 649.8,651.8 667.2,660.5 666.5,629.2 690.5,641.6 725.4,661.9 774.9,683.8" fill="none" stroke="#008000" stroke-width="2.8" stroke-linejoin="miter"/>
<polyline points="511.6,515.4 562.5,588.5 627.3,646.4 700.0,675.5 773.4,689.6 827.2,714.3" fill="none" stroke="#0000ff" stroke-width="2.2"/>
<circle cx="511.6" cy="515.4" r="4.2" fill="#0000ff"/>
<circle cx="562.5" cy="588.5" r="4.2" fill="#0000ff"/>
<circle cx="627.3" cy="646.4" r="4.2" fill="#0000ff"/>
<circle cx="700.0" cy="675.5" r="4.2" fill="#0000ff"/>
<circle cx="773.4" cy="689.6" r="4.2" fill="#0000ff"/>
<polyline points="457.0,463.0 463.6,470.0 477.4,481.6 482.5,474.4 491.2,488.9 502.9,504.2 526.9,499.1 534.9,505.6 549.4,525.3 561.0,524.5 579.9,558.0 549.4,593.6 578.5,615.4 577.7,624.9 615.6,640.9 628.0,623.4 664.3,646.7 655.6,653.9 662.2,659.0 662.9,667.8 687.6,672.1 689.8,642.3 674.5,633.6 725.4,661.9 760.3,682.3 774.9,684.5 827.2,711.4" fill="none" stroke="#ff0000" stroke-width="3.2" stroke-linejoin="miter"/>
<polyline points="518.1,524.5 549.4,526.0 550.8,528.2 527.6,535.4 518.1,524.5" fill="none" stroke="#ff0000" stroke-width="3.2"/>
<polyline points="523.9,505.2 530.5,505.8" fill="none" stroke="#ff0000" stroke-width="3.2"/>
<polyline points="533.4,516.5 543.6,516.0" fill="none" stroke="#ff0000" stroke-width="3.2"/>
<polyline points="629.4,638.7 635.3,630.0" fill="none" stroke="#ff0000" stroke-width="3.2"/>
<polyline points="641.1,646.7 648.3,638.7" fill="none" stroke="#ff0000" stroke-width="3.2"/>
<polyline points="653.4,652.9 662.2,648.1" fill="none" stroke="#ff0000" stroke-width="6"/>
<polyline points="719.6,662.7 729.0,662.7" fill="none" stroke="#ff0000" stroke-width="5"/>
<polyline points="674.5,633.6 725.4,661.9" fill="none" stroke="#ff0000" stroke-width="4"/>
<path d="M486.3,538.2l10.4,10.4m0,-10.4l-10.4,10.4" stroke="#ff0000" stroke-width="3.2" fill="none"/>
<rect x="488.2" y="108.3" width="328.6" height="188.3" rx="3" fill="#e6e6e6" fill-opacity="0.87" stroke="#d0d0d0" stroke-opacity="0.87" stroke-width="1.6"/>
<text x="539.2" y="126.7" font-size="17.0" textLength="174.6" lengthAdjust="spacingAndGlyphs" fill="#000">AMSU Locations NONE</text>
<text x="539.2" y="149.6" font-size="17.0" textLength="210.6" lengthAdjust="spacingAndGlyphs" fill="#000">ARCHER Locations [0008Z]</text>
<text x="539.2" y="172.6" font-size="17.0" textLength="270.0" lengthAdjust="spacingAndGlyphs" fill="#000">SATCON Locations [0810Z 46 999]</text>
<text x="539.2" y="195.5" font-size="17.0" textLength="243.4" lengthAdjust="spacingAndGlyphs" fill="#000">ADT Tracks [1010Z 43.0 997.2]</text>
<text x="539.2" y="218.4" font-size="17.0" textLength="243.0" lengthAdjust="spacingAndGlyphs" fill="#000">JTWC/NHC Forecast [20/0600Z]</text>
<text x="539.2" y="241.3" font-size="17.0" textLength="225.4" lengthAdjust="spacingAndGlyphs" fill="#000">JTWC/NHC Tracks [20/0600Z]</text>
<text x="539.2" y="264.3" font-size="17.0" textLength="232.6" lengthAdjust="spacingAndGlyphs" fill="#000">MESOSCALE/TARGET Location</text>
<text x="539.2" y="287.2" font-size="17.0" textLength="118.0" lengthAdjust="spacingAndGlyphs" fill="#000">Floater Locater</text>
<rect x="506.79999999999995" y="117.8" width="9.2" height="9.2" fill="#bf00bf"/>
<rect x="506.79999999999995" y="140.73" width="9.2" height="9.2" fill="#bf00bf"/>
<path d="M507.2,164.06l8.4,8.4m0,-8.4l-8.4,8.4" stroke="#00bfbf" stroke-width="3" fill="none"/>
<line x1="494" y1="191.18999999999997" x2="528" y2="191.18999999999997" stroke="#008000" stroke-width="2.8"/>
<line x1="495" y1="214.11999999999998" x2="528" y2="214.11999999999998" stroke="#0000ff" stroke-width="2.78" stroke-dasharray="2.78 4.58"/>
<line x1="494" y1="236.85" x2="528" y2="236.85" stroke="#0000ff" stroke-width="2.2"/><circle cx="511.4" cy="236.85" r="4.2" fill="#0000ff"/>
<path d="M506.4,254.98l10,10m0,-10l-10,10" stroke="#ff0000" stroke-width="3.2" fill="none"/>
<line x1="494" y1="282.71" x2="528" y2="282.71" stroke="#ff0000" stroke-width="3.2"/>
</g>
<rect x="95.55" y="101.3" width="727.95" height="728.0" fill="none" stroke="#000" stroke-width="2.8"/>
<rect x="92.9" y="803.1" width="313.4" height="27.9" rx="3" fill="#000"/>
<text x="98.8" y="821.9" font-size="17.6" font-weight="bold" textLength="302.0" lengthAdjust="spacingAndGlyphs" fill="#fff">Copyright © 2020-2025 Dapiya</text>
<text x="87.2" y="219.8" font-size="13.7" text-anchor="end" textLength="33.8" lengthAdjust="spacingAndGlyphs" fill="#000">28°N</text>
<text x="87.2" y="365.4" font-size="13.7" text-anchor="end" textLength="33.8" lengthAdjust="spacingAndGlyphs" fill="#000">26°N</text>
<text x="87.2" y="510.9" font-size="13.7" text-anchor="end" textLength="33.8" lengthAdjust="spacingAndGlyphs" fill="#000">24°N</text>
<text x="87.2" y="656.8" font-size="13.7" text-anchor="end" textLength="33.8" lengthAdjust="spacingAndGlyphs" fill="#000">22°N</text>
<text x="87.2" y="802.8" font-size="13.7" text-anchor="end" textLength="33.8" lengthAdjust="spacingAndGlyphs" fill="#000">20°N</text>
<text x="198.3" y="850.8" font-size="13.8" text-anchor="middle" textLength="36.9" lengthAdjust="spacingAndGlyphs" fill="#000">62°W</text>
<text x="343.5" y="850.8" font-size="13.8" text-anchor="middle" textLength="36.9" lengthAdjust="spacingAndGlyphs" fill="#000">60°W</text>
<text x="489.3" y="850.8" font-size="13.8" text-anchor="middle" textLength="36.9" lengthAdjust="spacingAndGlyphs" fill="#000">58°W</text>
<text x="634.9" y="850.8" font-size="13.8" text-anchor="middle" textLength="36.9" lengthAdjust="spacingAndGlyphs" fill="#000">56°W</text>
<text x="780.5" y="850.8" font-size="13.8" text-anchor="middle" textLength="36.9" lengthAdjust="spacingAndGlyphs" fill="#000">54°W</text>
<linearGradient id="cbL" x1="0" y1="0" x2="0" y2="1"><stop offset="0" stop-color="#000"/><stop offset="1" stop-color="#fff"/></linearGradient>
<rect x="830.4" y="101.5" width="15.0" height="728.0" fill="url(#cbL)" stroke="#000" stroke-width="1"/>
<text x="853.0" y="161.5" font-size="17.2" textLength="20.4" lengthAdjust="spacingAndGlyphs" fill="#000">40</text>
<text x="853.0" y="215.5" font-size="17.2" textLength="20.4" lengthAdjust="spacingAndGlyphs" fill="#000">30</text>
<text x="853.0" y="269.4" font-size="17.2" textLength="20.4" lengthAdjust="spacingAndGlyphs" fill="#000">20</text>
<text x="853.0" y="323.3" font-size="17.2" textLength="20.4" lengthAdjust="spacingAndGlyphs" fill="#000">10</text>
<text x="853.0" y="377.2" font-size="17.2" textLength="9.8" lengthAdjust="spacingAndGlyphs" fill="#000">0</text>
<text x="853.0" y="431.2" font-size="17.2" textLength="34.6" lengthAdjust="spacingAndGlyphs" fill="#000">−10</text>
<text x="853.0" y="485.1" font-size="17.2" textLength="34.6" lengthAdjust="spacingAndGlyphs" fill="#000">−20</text>
<text x="853.0" y="539.0" font-size="17.2" textLength="34.6" lengthAdjust="spacingAndGlyphs" fill="#000">−30</text>
<text x="853.0" y="592.9" font-size="17.2" textLength="34.6" lengthAdjust="spacingAndGlyphs" fill="#000">−40</text>
<text x="853.0" y="646.9" font-size="17.2" textLength="34.6" lengthAdjust="spacingAndGlyphs" fill="#000">−50</text>
<text x="853.0" y="700.8" font-size="17.2" textLength="34.6" lengthAdjust="spacingAndGlyphs" fill="#000">−60</text>
<text x="853.0" y="754.7" font-size="17.2" textLength="34.6" lengthAdjust="spacingAndGlyphs" fill="#000">−70</text>
<text x="853.0" y="808.6" font-size="17.2" textLength="34.6" lengthAdjust="spacingAndGlyphs" fill="#000">−80</text>
<text x="840.3" y="93.6" font-size="17.4" textLength="18.0" lengthAdjust="spacingAndGlyphs" fill="#000">°C</text>
<g clip-path="url(#axR)">
<rect x="970.55" y="101.3" width="727.95" height="728.0" fill="#fff"/>
<g clip-path="url(#imgR)">
<g filter="url(#cmR)">
<rect x="965.55" y="96.3" width="737.95" height="738.0" fill="#292929"/>
<ellipse cx="1420" cy="200" rx="330" ry="62" fill="#111111" filter="url(#b28)"/>
<ellipse cx="1280" cy="300" rx="80" ry="50" fill="#171717" filter="url(#b28)" transform="rotate(-20 1280 300)"/>
<ellipse cx="1420" cy="260" rx="120" ry="30" fill="#131313" filter="url(#b18)"/>
<polygon points="1025.0,161.7 1062.0,160.0 1022.0,480.0 1005.0,830.0 965.0,830.0 965.0,600.0 985.0,480.0" fill="#383838" filter="url(#b18)"/>
<ellipse cx="985" cy="690" rx="16" ry="100" fill="#3c3c3c" filter="url(#b18)" transform="rotate(6 985 690)"/>
<ellipse cx="1620" cy="750" rx="120" ry="100" fill="#3c3c3c" filter="url(#b28)"/>
<ellipse cx="1670" cy="620" rx="50" ry="70" fill="#414141" filter="url(#b18)"/>
<ellipse cx="1180" cy="330" rx="30" ry="110" fill="#313131" filter="url(#b18)" transform="rotate(25 1180 330)"/>
<ellipse cx="1150" cy="700" rx="60" ry="120" fill="#232323" filter="url(#b28)"/>
<ellipse cx="1330" cy="780" rx="160" ry="50" fill="#232323" filter="url(#b28)"/>
<rect x="965.55" y="96.3" width="737.95" height="738.0" filter="url(#nzC)" opacity="0.035"/>
<rect x="965.55" y="96.3" width="737.95" height="738.0" filter="url(#nzD)" opacity="0.035"/>
<polygon points="1214.7,415.8 1217.8,372.4 1231.3,340.3 1252.0,313.4 1273.7,291.6 1300.6,275.1 1327.5,259.6 1360.6,248.2 1387.5,243.0 1419.6,248.2 1462.1,253.4 1500.4,266.8 1554.2,286.5 1608.0,302.0 1661.8,318.6 1720.8,340.3 1720.8,499.7 1706.3,506.9 1670.1,529.7 1646.3,548.3 1618.4,570.1 1594.5,590.8 1573.8,607.3 1548.0,626.0 1515.9,644.6 1491.0,652.9 1465.2,657.0 1438.3,657.0 1408.2,654.9 1382.4,648.7 1361.7,640.4 1345.1,634.2 1326.5,618.7 1307.9,605.2 1292.3,592.8 1279.9,576.3 1270.6,560.7 1261.3,538.0 1250.9,512.1 1238.5,486.2 1228.2,463.5 1218.8,439.6" fill="#414141" filter="url(#b6)"/>
<ellipse cx="1520" cy="688" rx="230" ry="42" fill="#434343" filter="url(#b18)"/>
<ellipse cx="1655" cy="625" rx="70" ry="60" fill="#464646" filter="url(#b18)"/>
<polygon points="1296.0,592.0 1331.0,616.0 1365.0,637.0 1410.0,651.0 1465.0,653.0 1514.0,641.0 1570.0,605.0 1640.0,548.0 1712.0,500.0 1712.0,560.0 1680.0,590.0 1640.0,620.0 1600.0,648.0 1560.0,672.0 1510.0,686.0 1450.0,690.0 1400.0,686.0 1355.0,672.0 1320.0,648.0 1295.0,620.0" fill="#515151" filter="url(#b8)"/>
<ellipse cx="1385" cy="652" rx="26" ry="7" fill="#666666" filter="url(#b3)" opacity="0.9" transform="rotate(10 1385 652)"/>
<ellipse cx="1440" cy="660" rx="30" ry="8" fill="#6b6b6b" filter="url(#b3)" opacity="0.9"/>
<ellipse cx="1500" cy="655" rx="28" ry="8" fill="#686868" filter="url(#b3)" opacity="0.9" transform="rotate(-12 1500 655)"/>
<ellipse cx="1555" cy="628" rx="26" ry="8" fill="#666666" filter="url(#b3)" opacity="0.9" transform="rotate(-32 1555 628)"/>
<ellipse cx="1610" cy="590" rx="26" ry="8" fill="#666666" filter="url(#b3)" opacity="0.9" transform="rotate(-38 1610 590)"/>
<ellipse cx="1660" cy="548" rx="24" ry="8" fill="#666666" filter="url(#b3)" opacity="0.9" transform="rotate(-35 1660 548)"/>
<ellipse cx="1335" cy="628" rx="18" ry="6" fill="#666666" filter="url(#b3)" opacity="0.9" transform="rotate(35 1335 628)"/>
<ellipse cx="1470" cy="672" rx="22" ry="6" fill="#5d5d5d" filter="url(#b3)" opacity="0.9"/>
<ellipse cx="1420" cy="672" rx="18" ry="5" fill="#5d5d5d" filter="url(#b3)" opacity="0.9" transform="rotate(5 1420 672)"/>
<polygon points="1223.0,417.0 1226.0,375.0 1239.0,344.0 1259.0,318.0 1280.0,297.0 1306.0,281.0 1332.0,266.0 1364.0,255.0 1390.0,250.0 1421.0,255.0 1462.0,260.0 1499.0,273.0 1551.0,292.0 1603.0,307.0 1655.0,323.0 1712.0,344.0 1712.0,498.0 1698.0,505.0 1663.0,527.0 1640.0,545.0 1613.0,566.0 1590.0,586.0 1570.0,602.0 1545.0,620.0 1514.0,638.0 1490.0,646.0 1465.0,650.0 1439.0,650.0 1410.0,648.0 1385.0,642.0 1365.0,634.0 1349.0,628.0 1331.0,613.0 1313.0,600.0 1298.0,588.0 1286.0,572.0 1277.0,557.0 1268.0,535.0 1258.0,510.0 1246.0,485.0 1236.0,463.0 1227.0,440.0" fill="#797979" filter="url(#b3)"/>
<polygon points="1241.0,417.0 1245.0,375.0 1257.0,349.0 1276.0,324.0 1298.0,305.0 1324.0,289.0 1353.0,275.0 1384.0,268.0 1421.0,271.0 1462.0,276.0 1499.0,289.0 1551.0,310.0 1603.0,331.0 1650.0,354.0 1681.0,385.0 1712.0,406.0 1712.0,470.0 1690.0,490.0 1655.0,515.0 1628.0,538.0 1603.0,560.0 1580.0,580.0 1558.0,598.0 1535.0,616.0 1510.0,632.0 1488.0,640.0 1465.0,644.0 1439.0,644.0 1412.0,641.0 1390.0,634.0 1372.0,625.0 1355.0,614.0 1338.0,601.0 1322.0,588.0 1308.0,573.0 1297.0,556.0 1287.0,535.0 1276.0,510.0 1263.0,482.0 1252.0,455.0" fill="#9b9b9b" filter="url(#b4)"/>
<polygon points="1259.0,417.0 1265.0,380.0 1278.0,352.0 1298.0,328.0 1324.0,310.0 1356.0,297.0 1390.0,292.0 1426.0,294.0 1462.0,302.0 1499.0,318.0 1541.0,339.0 1577.0,365.0 1603.0,396.0 1616.0,432.0 1619.0,469.0 1611.0,510.0 1597.0,540.0 1578.0,566.0 1556.0,588.0 1530.0,610.0 1505.0,627.0 1480.0,636.0 1452.0,640.0 1425.0,637.0 1400.0,628.0 1388.0,610.0 1380.0,588.0 1372.0,565.0 1360.0,540.0 1348.0,520.0 1330.0,505.0 1310.0,490.0 1292.0,470.0 1278.0,448.0" fill="#bebebe" filter="url(#b8)"/>
<polygon points="1312.0,420.0 1315.0,394.0 1326.0,371.0 1346.0,351.0 1374.0,338.0 1406.0,340.0 1437.0,351.0 1462.0,369.0 1494.0,382.0 1522.0,394.0 1541.0,420.0 1548.0,457.0 1548.0,492.0 1544.0,523.0 1538.0,552.0 1530.0,580.0 1520.0,602.0 1503.0,624.0 1480.0,634.0 1455.0,638.0 1430.0,633.0 1410.0,620.0 1398.0,600.0 1390.0,575.0 1380.0,548.0 1366.0,522.0 1346.0,501.0 1326.0,479.0 1315.0,451.0" fill="#d8d8d8" filter="url(#b8)"/>
<polygon points="1337.0,351.0 1356.0,341.0 1384.0,340.0 1412.0,347.0 1431.0,363.0 1437.0,382.0 1431.0,401.0 1447.0,416.0 1478.0,401.0 1506.0,404.0 1519.0,426.0 1524.0,457.0 1528.0,495.0 1526.0,530.0 1522.0,560.0 1517.0,590.0 1508.0,612.0 1489.0,630.0 1462.0,636.0 1436.0,629.0 1416.0,611.0 1404.0,590.0 1394.0,565.0 1384.0,539.0 1376.0,514.0 1371.0,489.0 1378.0,467.0 1359.0,460.0 1340.0,448.0 1329.0,426.0 1326.0,401.0 1329.0,376.0" fill="#ececec" filter="url(#b4)"/>
<path d="M1324.5,447.9 Q1368.8,458.3 1400.0,434.9 T1452.1,395.8" fill="none" stroke="#c5c5c5" stroke-width="12" stroke-linecap="round" filter="url(#b4)"/>
<ellipse cx="1592.7083333333335" cy="333.33333333333337" rx="110" ry="16" fill="#868686" filter="url(#b6)" opacity="0.8" transform="rotate(17 1592.7083333333335 333.33333333333337)"/>
<ellipse cx="1330" cy="548" rx="18" ry="42" fill="#898989" filter="url(#b8)" opacity="0.9" transform="rotate(-32 1330 548)"/>
<ellipse cx="1704.6875" cy="338.5416666666667" rx="22" ry="30" fill="#5d5d5d" filter="url(#b8)" opacity="0.9"/>
<polygon points="1012.6,413.6 1026.8,415.8 1037.7,409.2 1053.0,419.0 1057.3,426.7 1066.1,419.0 1071.5,415.8 1074.8,428.9 1083.5,435.4 1087.9,448.5 1092.2,465.9 1087.9,483.4 1081.3,492.1 1079.2,505.2 1072.6,517.2 1061.7,507.4 1048.6,494.3 1039.9,483.4 1033.4,465.9 1031.2,452.8 1022.4,446.3 1015.9,433.2 1018.1,426.7" fill="#4f4f4f" filter="url(#b3)"/>
<polygon points="1069.5,466.7 1084.7,464.5 1093.4,460.2 1100.0,471.1 1097.8,484.2 1104.4,492.9 1100.0,508.2 1091.3,514.7 1080.4,508.2 1071.6,492.9 1065.1,479.8" fill="#4f4f4f" filter="url(#b3)"/>
<polygon points="1085.3,413.8 1092.9,406.2 1103.8,404.0 1112.5,409.5 1115.8,422.6 1114.7,437.8 1106.0,443.3 1099.4,446.6 1092.9,442.2 1089.6,431.3" fill="#4f4f4f" filter="url(#b3)"/>
<polygon points="1096.5,440.2 1102.0,438.0 1106.4,448.9 1104.2,462.0 1096.5,467.4 1097.6,453.3" fill="#4f4f4f" filter="url(#b3)"/>
<polygon points="999.3,497.4 1011.3,493.1 1024.4,499.6 1029.8,512.7 1022.2,523.6 1030.9,532.3 1029.8,542.1 1022.2,547.6 1016.8,556.3 1008.0,545.4 1010.2,534.5 1001.5,523.6 999.3,512.7" fill="#4f4f4f" filter="url(#b3)"/>
<polygon points="1138.3,485.4 1147.1,482.1 1155.8,493.0 1164.5,501.7 1168.9,486.5 1174.3,493.0 1174.3,503.9 1166.7,508.3 1164.5,519.2 1155.8,521.4 1154.7,527.9 1151.4,514.8 1147.1,501.7" fill="#4f4f4f" filter="url(#b3)"/>
<polygon points="1170.9,529.0 1170.4,532.0 1168.9,534.4 1166.7,535.8 1164.3,535.8 1162.1,534.4 1160.6,532.0 1160.1,529.0 1160.6,526.1 1162.1,523.7 1164.3,522.3 1166.7,522.3 1168.9,523.7 1170.4,526.1" fill="#4f4f4f" filter="url(#b3)"/>
<polygon points="1180.2,555.9 1179.6,558.8 1178.0,561.1 1175.5,562.4 1172.9,562.4 1170.5,561.1 1168.8,558.8 1168.2,555.9 1168.8,553.1 1170.5,550.8 1172.9,549.5 1175.5,549.5 1178.0,550.8 1179.6,553.1" fill="#4f4f4f" filter="url(#b3)"/>
<polygon points="1024.6,443.3 1024.1,446.1 1022.9,448.4 1021.1,449.7 1019.1,449.7 1017.3,448.4 1016.0,446.1 1015.6,443.3 1016.0,440.4 1017.3,438.1 1019.1,436.8 1021.1,436.8 1022.9,438.1 1024.1,440.4" fill="#4f4f4f" filter="url(#b3)"/>
<polygon points="1017.2,433.8 1017.0,435.5 1016.5,436.9 1015.8,437.6 1015.0,437.6 1014.3,436.9 1013.8,435.5 1013.6,433.8 1013.8,432.1 1014.3,430.8 1015.0,430.0 1015.8,430.0 1016.5,430.8 1017.0,432.1" fill="#4f4f4f" filter="url(#b3)"/>
<polygon points="1222.9,468.3 1222.5,470.5 1221.1,472.3 1219.2,473.2 1217.1,473.2 1215.1,472.3 1213.8,470.5 1213.3,468.3 1213.8,466.1 1215.1,464.3 1217.1,463.3 1219.2,463.3 1221.1,464.3 1222.5,466.1" fill="#4f4f4f" filter="url(#b3)"/>
<polygon points="1097.5,508.7 1096.9,511.7 1095.4,514.1 1093.3,515.4 1090.9,515.4 1088.7,514.1 1087.2,511.7 1086.7,508.7 1087.2,505.7 1088.7,503.3 1090.9,502.0 1093.3,502.0 1095.4,503.3 1096.9,505.7" fill="#4f4f4f" filter="url(#b3)"/>
<polygon points="1041.1,436.0 1040.8,437.7 1039.8,439.0 1038.3,439.8 1036.7,439.8 1035.3,439.0 1034.3,437.7 1033.9,436.0 1034.3,434.3 1035.3,432.9 1036.7,432.2 1038.3,432.2 1039.8,432.9 1040.8,434.3" fill="#4f4f4f" filter="url(#b3)"/>
<polygon points="1036.5,438.5 1045.2,440.6 1045.2,449.4 1038.7,453.7 1032.1,449.4" fill="#4f4f4f" filter="url(#b3)"/>
<polygon points="1051.2,434.6 1057.8,428.0 1063.2,429.1 1068.7,425.9 1067.6,432.4 1060.0,437.9 1053.4,437.9" fill="#4f4f4f" filter="url(#b3)"/>
<polygon points="1059.8,214.1 1059.2,216.2 1057.7,217.9 1055.6,218.8 1053.2,218.8 1051.0,217.9 1049.5,216.2 1049.0,214.1 1049.5,212.0 1051.0,210.4 1053.2,209.4 1055.6,209.4 1057.7,210.4 1059.2,212.0" fill="#4f4f4f" filter="url(#b3)"/>
<polygon points="1128.5,385.5 1134.0,368.9 1145.1,354.1 1154.3,356.0 1155.4,372.6 1145.1,383.7 1134.0,392.9" fill="#4f4f4f" filter="url(#b3)"/>
<polygon points="1222.5,468.3 1222.1,470.5 1220.8,472.3 1219.0,473.3 1217.0,473.3 1215.2,472.3 1213.9,470.5 1213.5,468.3 1213.9,466.1 1215.2,464.3 1217.0,463.4 1219.0,463.4 1220.8,464.3 1222.1,466.1" fill="#4f4f4f" filter="url(#b3)"/>
<polygon points="1262.2,618.2 1270.9,609.5 1284.0,606.2 1297.1,611.7 1310.2,616.0 1323.3,622.6 1327.6,631.3 1318.9,642.2 1305.8,646.6 1292.7,644.4 1279.6,642.2 1268.7,635.7" fill="#4f4f4f" filter="url(#b3)"/>
<polygon points="1254.0,644.6 1260.6,633.7 1273.7,631.5 1286.8,635.9 1292.2,644.6 1284.6,653.3 1269.3,657.7 1256.2,653.3" fill="#4f4f4f" filter="url(#b3)"/>
<polygon points="1254.6,636.9 1253.6,639.5 1250.9,641.6 1247.0,642.8 1242.6,642.8 1238.7,641.6 1236.0,639.5 1235.1,636.9 1236.0,634.3 1238.7,632.2 1242.6,631.1 1247.0,631.1 1250.9,632.2 1253.6,634.3" fill="#4f4f4f" filter="url(#b3)"/>
<polygon points="1275.3,575.4 1284.1,577.6 1288.4,588.5 1279.7,586.3" fill="#4f4f4f" filter="url(#b3)"/>
<polygon points="1338.5,632.4 1355.9,630.2 1369.0,638.9 1355.9,646.5 1340.6,643.3" fill="#4f4f4f" filter="url(#b3)"/>
<polygon points="1668.3,573.6 1682.5,580.1 1693.8,591.1 1691.2,595.4 1678.1,591.1 1669.4,582.3" fill="#4f4f4f" filter="url(#b3)"/>
<polygon points="1698.9,527.4 1698.2,529.4 1696.3,531.0 1693.6,531.8 1690.5,531.8 1687.7,531.0 1685.8,529.4 1685.1,527.4 1685.8,525.5 1687.7,523.9 1690.5,523.1 1693.6,523.1 1696.3,523.9 1698.2,525.5" fill="#4f4f4f" filter="url(#b3)"/>
<polygon points="1638.1,638.0 1644.7,644.5 1651.2,659.8 1646.8,670.7 1631.6,672.9 1625.0,666.3 1631.6,651.0" fill="#4f4f4f" filter="url(#b3)"/>
<polygon points="1648.9,633.2 1659.8,635.4 1668.5,655.0 1668.5,672.5 1657.6,692.1 1653.2,676.8 1648.9,659.4 1644.5,641.9" fill="#4f4f4f" filter="url(#b3)"/>
<polygon points="1697.7,661.2 1692.3,668.9 1697.7,679.8" fill="#4f4f4f" filter="url(#b3)"/>
<polygon points="1633.3,774.5 1646.4,768.9 1666.9,772.6 1668.8,789.4 1663.2,802.5 1653.9,800.6 1644.5,789.4 1635.2,783.8" fill="#4f4f4f" filter="url(#b3)"/>
<polygon points="1598.9,810.8 1608.2,799.6 1619.4,803.3 1626.9,810.8 1619.4,816.3 1610.1,812.6 1602.7,814.5" fill="#4f4f4f" filter="url(#b3)"/>
<polygon points="1026.6,426.5 1036.1,428.0 1043.3,423.6 1053.5,430.2 1056.4,435.3 1062.2,430.2 1065.9,428.0 1068.1,436.7 1073.9,441.1 1076.8,449.8 1079.7,461.4 1076.8,473.1 1072.4,478.9 1071.0,487.6 1066.6,495.6 1059.3,489.1 1050.6,480.3 1044.8,473.1 1040.4,461.4 1039.0,452.7 1033.2,448.3 1028.8,439.6 1030.3,435.3" fill="#a7a7a7" filter="url(#b2)"/>
<polygon points="1075.3,473.1 1085.5,471.6 1091.3,468.7 1095.7,476.0 1094.2,484.7 1098.6,490.5 1095.7,500.7 1089.9,505.1 1082.6,500.7 1076.8,490.5 1072.4,481.8" fill="#9e9e9e" filter="url(#b2)"/>
<polygon points="1090.6,417.8 1095.7,412.7 1103.0,411.3 1108.8,414.9 1111.0,423.6 1110.2,433.8 1104.4,437.4 1100.1,439.6 1095.7,436.7 1093.5,429.4" fill="#949494" filter="url(#b2)"/>
<polygon points="1097.9,444.0 1101.5,442.5 1104.4,449.8 1103.0,458.5 1097.9,462.2 1098.6,452.7" fill="#7d7d7d" filter="url(#b2)"/>
<polygon points="1004.8,506.5 1012.8,503.6 1021.5,508.0 1025.2,516.7 1020.1,524.0 1025.9,529.8 1025.2,536.3 1020.1,540.0 1016.4,545.8 1010.6,538.5 1012.1,531.2 1006.3,524.0 1004.8,516.7" fill="#8b8b8b" filter="url(#b2)"/>
<polygon points="1145.1,491.2 1150.9,489.1 1156.8,496.3 1162.6,502.1 1165.5,492.0 1169.1,496.3 1169.1,503.6 1164.0,506.5 1162.6,513.8 1156.8,515.2 1156.0,519.6 1153.9,510.9 1150.9,502.1" fill="#8b8b8b" filter="url(#b2)"/>
<polygon points="1169.1,529.0 1168.7,531.0 1167.7,532.6 1166.3,533.5 1164.7,533.5 1163.2,532.6 1162.2,531.0 1161.9,529.0 1162.2,527.1 1163.2,525.5 1164.7,524.6 1166.3,524.6 1167.7,525.5 1168.7,527.1" fill="#7d7d7d" filter="url(#b2)"/>
<polygon points="1178.2,555.9 1177.8,557.9 1176.7,559.4 1175.1,560.2 1173.3,560.2 1171.7,559.4 1170.6,557.9 1170.2,555.9 1170.6,554.0 1171.7,552.5 1173.3,551.7 1175.1,551.7 1176.7,552.5 1177.8,554.0" fill="#7d7d7d" filter="url(#b2)"/>
<polygon points="1023.1,443.3 1022.8,445.2 1021.9,446.7 1020.7,447.5 1019.4,447.5 1018.2,446.7 1017.4,445.2 1017.1,443.3 1017.4,441.3 1018.2,439.8 1019.4,439.0 1020.7,439.0 1021.9,439.8 1022.8,441.3" fill="#7d7d7d" filter="url(#b2)"/>
<polygon points="1016.6,433.8 1016.5,434.9 1016.2,435.8 1015.7,436.3 1015.2,436.3 1014.7,435.8 1014.3,434.9 1014.2,433.8 1014.3,432.7 1014.7,431.8 1015.2,431.3 1015.7,431.3 1016.2,431.8 1016.5,432.7" fill="#7d7d7d" filter="url(#b2)"/>
<polygon points="1221.3,468.3 1221.0,469.7 1220.1,470.9 1218.8,471.6 1217.4,471.6 1216.1,470.9 1215.2,469.7 1214.9,468.3 1215.2,466.8 1216.1,465.6 1217.4,465.0 1218.8,465.0 1220.1,465.6 1221.0,466.8" fill="#7d7d7d" filter="url(#b2)"/>
<polygon points="1095.7,508.7 1095.3,510.7 1094.3,512.3 1092.9,513.2 1091.3,513.2 1089.8,512.3 1088.8,510.7 1088.5,508.7 1088.8,506.7 1089.8,505.1 1091.3,504.2 1092.9,504.2 1094.3,505.1 1095.3,506.7" fill="#7d7d7d" filter="url(#b2)"/>
<polygon points="1039.9,436.0 1039.7,437.1 1039.0,438.0 1038.1,438.5 1037.0,438.5 1036.0,438.0 1035.4,437.1 1035.1,436.0 1035.4,434.9 1036.0,434.0 1037.0,433.4 1038.1,433.4 1039.0,434.0 1039.7,434.9" fill="#7d7d7d" filter="url(#b2)"/>
<polygon points="1037.5,441.1 1043.3,442.5 1043.3,448.3 1039.0,451.3 1034.6,448.3" fill="#949494" filter="url(#b2)"/>
<polygon points="1054.2,433.8 1058.6,429.4 1062.2,430.2 1065.9,428.0 1065.2,432.3 1060.1,436.0 1055.7,436.0" fill="#949494" filter="url(#b2)"/>
<polygon points="1058.0,214.1 1057.6,215.5 1056.6,216.6 1055.2,217.2 1053.6,217.2 1052.1,216.6 1051.1,215.5 1050.8,214.1 1051.1,212.7 1052.1,211.6 1053.6,211.0 1055.2,211.0 1056.6,211.6 1057.6,212.7" fill="#7d7d7d" filter="url(#b2)"/>
<polygon points="1133.1,381.5 1136.8,370.4 1144.2,360.5 1150.3,361.8 1151.1,372.8 1144.2,380.2 1136.8,386.4" fill="#8b8b8b" filter="url(#b2)"/>
<polygon points="1221.0,468.3 1220.7,469.8 1219.9,471.0 1218.7,471.6 1217.3,471.6 1216.1,471.0 1215.3,469.8 1215.0,468.3 1215.3,466.9 1216.1,465.7 1217.3,465.0 1218.7,465.0 1219.9,465.7 1220.7,466.9" fill="#7d7d7d" filter="url(#b2)"/>
<polygon points="1273.2,621.2 1279.0,615.4 1287.7,613.2 1296.4,616.9 1305.2,619.8 1313.9,624.1 1316.8,630.0 1311.0,637.2 1302.2,640.1 1293.5,638.7 1284.8,637.2 1277.5,632.9" fill="#c3c3c3" filter="url(#b2)"/>
<polygon points="1260.1,644.5 1264.4,637.2 1273.2,635.8 1281.9,638.7 1285.5,644.5 1280.4,650.3 1270.3,653.2 1261.5,650.3" fill="#949494" filter="url(#b2)"/>
<polygon points="1251.3,636.9 1250.7,638.7 1248.9,640.1 1246.3,640.8 1243.4,640.8 1240.8,640.1 1239.0,638.7 1238.3,636.9 1239.0,635.2 1240.8,633.8 1243.4,633.0 1246.3,633.0 1248.9,633.8 1250.7,635.2" fill="#7d7d7d" filter="url(#b2)"/>
<polygon points="1277.5,577.6 1283.3,579.1 1286.3,586.3 1280.4,584.9" fill="#7d7d7d" filter="url(#b2)"/>
<polygon points="1343.0,634.3 1354.6,632.9 1363.3,638.7 1354.6,643.8 1344.4,641.6" fill="#7d7d7d" filter="url(#b2)"/>
<polygon points="1672.4,577.6 1681.8,582.0 1689.4,589.2 1687.7,592.1 1678.9,589.2 1673.1,583.4" fill="#7d7d7d" filter="url(#b2)"/>
<polygon points="1696.6,527.4 1696.2,528.7 1694.9,529.8 1693.0,530.4 1691.0,530.4 1689.2,529.8 1687.9,528.7 1687.4,527.4 1687.9,526.1 1689.2,525.1 1691.0,524.5 1693.0,524.5 1694.9,525.1 1696.2,526.1" fill="#7d7d7d" filter="url(#b2)"/>
<polygon points="1638.2,644.5 1642.6,648.9 1646.9,659.0 1644.0,666.3 1633.9,667.8 1629.5,663.4 1633.9,653.2" fill="#8b8b8b" filter="url(#b2)"/>
<polygon points="1651.3,641.6 1658.6,643.0 1664.4,656.1 1664.4,667.8 1657.1,680.8 1654.2,670.7 1651.3,659.0 1648.4,647.4" fill="#8b8b8b" filter="url(#b2)"/>
<polygon points="1697.1,664.1 1693.5,669.2 1697.1,676.5" fill="#7d7d7d" filter="url(#b2)"/>
<polygon points="1639.4,778.1 1648.1,774.4 1661.8,776.8 1663.0,788.0 1659.3,796.7 1653.1,795.5 1646.9,788.0 1640.7,784.3" fill="#8b8b8b" filter="url(#b2)"/>
<polygon points="1603.4,810.4 1609.6,802.9 1617.0,805.4 1622.0,810.4 1617.0,814.1 1610.8,811.6 1605.8,812.9" fill="#7d7d7d" filter="url(#b2)"/>
<polygon points="1047.7,448.3 1057.9,442.5 1068.1,446.9 1073.2,458.5 1071.0,473.1 1065.9,483.2 1057.9,477.4 1051.3,465.8" fill="#d1d1d1" filter="url(#b3)"/>
<polygon points="1079.7,478.9 1089.9,476.0 1094.2,487.6 1091.3,499.2 1084.1,496.3" fill="#c3c3c3" filter="url(#b3)"/>
<polygon points="1283.3,621.2 1296.4,618.3 1309.5,624.1 1311.0,631.4 1302.2,635.8 1290.6,634.3" fill="#dfdfdf" filter="url(#b2)"/>
<polygon points="1264.4,641.6 1273.2,638.7 1280.4,643.0 1276.1,648.9 1267.3,649.6" fill="#c3c3c3" filter="url(#b2)"/>
<ellipse cx="1650.5954955626817" cy="784.2961195217142" rx="7" ry="9" fill="#b9b9b9" filter="url(#b2)" transform="rotate(-30 1650.5954955626817 784.2961195217142)"/>
<ellipse cx="1119.6" cy="189.5" rx="9" ry="3.2" fill="#8b8b8b" filter="url(#b2)" transform="rotate(-35 1119.6 189.5)"/>
<ellipse cx="1054" cy="214" rx="4" ry="3.4" fill="#7d7d7d" filter="url(#b2)"/>
<ellipse cx="1356" cy="548" rx="18" ry="7" fill="#e8e8e8" filter="url(#b2)" transform="rotate(-30 1356 548)"/>
<ellipse cx="1390" cy="535" rx="12" ry="9" fill="#dfdfdf" filter="url(#b2)" transform="rotate(-30 1390 535)"/>
<ellipse cx="1317" cy="497" rx="22" ry="5" fill="#d5d5d5" filter="url(#b2)" transform="rotate(-5 1317 497)"/>
</g></g></g>
<g clip-path="url(#axR)"><g clip-path="url(#imgR)">
<path d="M1073.0,101.3V829.3 M1218.2,101.3V829.3 M1364.0,101.3V829.3 M1509.6,101.3V829.3 M1655.2,101.3V829.3 M970.55,216.0H1698.5 M970.55,361.6H1698.5 M970.55,507.1H1698.5 M970.55,653.0H1698.5 M970.55,799.0H1698.5" stroke="#fff" stroke-width="2.1" stroke-dasharray="2.1 3.47" fill="none"/>
</g></g>
<rect x="970.55" y="101.3" width="727.95" height="728.0" fill="none" stroke="#000" stroke-width="2.8"/>
<text x="962.2" y="219.8" font-size="13.7" text-anchor="end" textLength="33.8" lengthAdjust="spacingAndGlyphs" fill="#000">28°N</text>
<text x="962.2" y="365.4" font-size="13.7" text-anchor="end" textLength="33.8" lengthAdjust="spacingAndGlyphs" fill="#000">26°N</text>
<text x="962.2" y="510.9" font-size="13.7" text-anchor="end" textLength="33.8" lengthAdjust="spacingAndGlyphs" fill="#000">24°N</text>
<text x="962.2" y="656.8" font-size="13.7" text-anchor="end" textLength="33.8" lengthAdjust="spacingAndGlyphs" fill="#000">22°N</text>
<text x="962.2" y="802.8" font-size="13.7" text-anchor="end" textLength="33.8" lengthAdjust="spacingAndGlyphs" fill="#000">20°N</text>
<text x="1073.3" y="850.8" font-size="13.8" text-anchor="middle" textLength="36.9" lengthAdjust="spacingAndGlyphs" fill="#000">62°W</text>
<text x="1218.5" y="850.8" font-size="13.8" text-anchor="middle" textLength="36.9" lengthAdjust="spacingAndGlyphs" fill="#000">60°W</text>
<text x="1364.3" y="850.8" font-size="13.8" text-anchor="middle" textLength="36.9" lengthAdjust="spacingAndGlyphs" fill="#000">58°W</text>
<text x="1509.9" y="850.8" font-size="13.8" text-anchor="middle" textLength="36.9" lengthAdjust="spacingAndGlyphs" fill="#000">56°W</text>
<text x="1655.5" y="850.8" font-size="13.8" text-anchor="middle" textLength="36.9" lengthAdjust="spacingAndGlyphs" fill="#000">54°W</text>
<linearGradient id="cbR" x1="0" y1="0" x2="0" y2="1"><stop offset="0.0000" stop-color="#ffffff"/><stop offset="0.3333" stop-color="#ffffff"/><stop offset="0.3333" stop-color="#681a6e"/><stop offset="0.3667" stop-color="#3c40a0"/><stop offset="0.4000" stop-color="#1e5ac8"/><stop offset="0.4200" stop-color="#0870f8"/><stop offset="0.4467" stop-color="#1e90ff"/><stop offset="0.4667" stop-color="#40aafa"/><stop offset="0.5000" stop-color="#60d8ff"/><stop offset="0.5167" stop-color="#7fffff"/><stop offset="0.5333" stop-color="#7afcd7"/><stop offset="0.5500" stop-color="#73f6a0"/><stop offset="0.5667" stop-color="#76f06e"/><stop offset="0.5833" stop-color="#b4f45f"/><stop offset="0.6000" stop-color="#f0fa69"/><stop offset="0.6167" stop-color="#fff06c"/><stop offset="0.6333" stop-color="#ffd25a"/><stop offset="0.6500" stop-color="#ffb93e"/><stop offset="0.6667" stop-color="#ffa028"/><stop offset="0.6833" stop-color="#ff870f"/><stop offset="0.7000" stop-color="#fa7300"/><stop offset="0.7167" stop-color="#e16108"/><stop offset="0.7333" stop-color="#c8500f"/><stop offset="0.7500" stop-color="#b43c0c"/><stop offset="0.7667" stop-color="#a0280a"/><stop offset="0.7833" stop-color="#8c0f04"/><stop offset="0.8000" stop-color="#800000"/><stop offset="1.0000" stop-color="#800000"/></linearGradient>
<rect x="1705.5" y="101.5" width="15.0" height="728.0" fill="url(#cbR)" stroke="#000" stroke-width="1"/>
<text x="1728.0" y="156.1" font-size="17.2" textLength="20.4" lengthAdjust="spacingAndGlyphs" fill="#000">40</text>
<text x="1728.0" y="204.7" font-size="17.2" textLength="20.4" lengthAdjust="spacingAndGlyphs" fill="#000">30</text>
<text x="1728.0" y="253.2" font-size="17.2" textLength="20.4" lengthAdjust="spacingAndGlyphs" fill="#000">20</text>
<text x="1728.0" y="301.7" font-size="17.2" textLength="20.4" lengthAdjust="spacingAndGlyphs" fill="#000">10</text>
<text x="1728.0" y="350.3" font-size="17.2" textLength="9.8" lengthAdjust="spacingAndGlyphs" fill="#000">0</text>
<text x="1728.0" y="398.8" font-size="17.2" textLength="34.6" lengthAdjust="spacingAndGlyphs" fill="#000">−10</text>
<text x="1728.0" y="447.3" font-size="17.2" textLength="34.6" lengthAdjust="spacingAndGlyphs" fill="#000">−20</text>
<text x="1728.0" y="495.9" font-size="17.2" textLength="34.6" lengthAdjust="spacingAndGlyphs" fill="#000">−30</text>
<text x="1728.0" y="544.4" font-size="17.2" textLength="34.6" lengthAdjust="spacingAndGlyphs" fill="#000">−40</text>
<text x="1728.0" y="592.9" font-size="17.2" textLength="34.6" lengthAdjust="spacingAndGlyphs" fill="#000">−50</text>
<text x="1728.0" y="641.5" font-size="17.2" textLength="34.6" lengthAdjust="spacingAndGlyphs" fill="#000">−60</text>
<text x="1728.0" y="690.0" font-size="17.2" textLength="34.6" lengthAdjust="spacingAndGlyphs" fill="#000">−70</text>
<text x="1728.0" y="738.5" font-size="17.2" textLength="34.6" lengthAdjust="spacingAndGlyphs" fill="#000">−80</text>
<text x="1728.0" y="787.1" font-size="17.2" textLength="34.6" lengthAdjust="spacingAndGlyphs" fill="#000">−90</text>
<text x="1715.3" y="93.6" font-size="17.4" textLength="18.0" lengthAdjust="spacingAndGlyphs" fill="#000">°C</text>
<clipPath id="cw"><rect x="95.5" y="903.4" width="750.3" height="375.0000000000001"/></clipPath>
<clipPath id="ca"><rect x="95.5" y="1278.4" width="750.3" height="374.89999999999986"/></clipPath>
<g clip-path="url(#cw)" fill="none">
<polyline points="128.8,1260.8 144.7,1260.8 160.5,1238.1 176.4,1238.1 192.2,1215.4 208.1,1215.4 223.9,1215.4 239.8,1192.7 255.7,1192.7 271.5,1192.7 287.4,1170.0 303.2,1170.0 319.1,1147.3 334.9,1124.6 350.8,1124.6 366.7,1124.6 382.5,1124.6 398.4,1124.6 414.2,1124.6 430.1,1124.6 445.9,1124.6 461.8,1124.6 477.7,1124.6 493.5,1124.6" stroke="#0000ff" stroke-width="5.2" stroke-linejoin="round" stroke-linecap="square"/>
<polyline points="493.5,1124.6 525.4,1101.2 651.9,920.3 685.0,920.3 698.4,942.8 727.5,942.8 762.7,998.9 791.8,998.9 812.4,1032.9" stroke="#0000ff" stroke-width="5.2" stroke-dasharray="5.2 8.65" stroke-linejoin="round"/>
</g>
<rect x="104.5" y="912.5" width="267.6" height="63.0" rx="3.5" fill="#fff" fill-opacity="0.8" stroke="#d2d2d2" stroke-width="2.9"/>
<line x1="110" y1="928.8" x2="152.7" y2="928.8" stroke="#0000ff" stroke-width="5.2"/>
<line x1="111.6" y1="957.4" x2="152.7" y2="957.4" stroke="#0000ff" stroke-width="5.2" stroke-dasharray="5.2 8.65"/>
<text x="166.7" y="935.6" font-size="20" textLength="142.5" lengthAdjust="spacingAndGlyphs" fill="#000">Wind[max=45]</text>
<text x="166.7" y="963.6" font-size="20" textLength="196.0" lengthAdjust="spacingAndGlyphs" fill="#000">Wind Fore.[max=90]</text>
<g clip-path="url(#cw)" fill="none">
<polyline points="128.8,920.4 144.7,920.4 160.5,963.0 176.4,963.0 192.2,1005.6 208.1,1005.6 223.9,1048.2 239.8,1090.8 255.7,1133.4 271.5,1133.4 287.4,1133.4 303.2,1133.4 319.1,1176.0 334.9,1218.6 350.8,1261.2 366.7,1261.2 382.5,1261.2 398.4,1261.2 414.2,1261.2 430.1,1261.2 445.9,1261.2 461.8,1261.2 477.7,1261.2 493.5,1261.2" stroke="#1f77b4" stroke-width="5.2" stroke-linejoin="round" stroke-linecap="square"/>
</g>
<rect x="604.4" y="912.6" width="231.0" height="34.6" rx="3.5" fill="#fff" fill-opacity="0.8" stroke="#d2d2d2" stroke-width="2.9"/>
<line x1="610.3" y1="928.6" x2="652.8" y2="928.6" stroke="#1f77b4" stroke-width="5.2"/>
<text x="666.8" y="935.6" font-size="20" textLength="160.4" lengthAdjust="spacingAndGlyphs" fill="#000">Pres.[min=1004]</text>
<g clip-path="url(#ca)" fill="none">
<polyline points="128.8,1635.8 287.4,1635.8 300.0,1634.4 316.8,1629.8 493.5,1574.1" stroke="#008000" stroke-width="5.2" stroke-linejoin="round" stroke-linecap="square"/>
<polyline points="493.5,1574.1 508.8,1567.5 534.4,1557.4 558.5,1543.8 581.3,1528.0 602.4,1510.1 621.9,1490.8 639.7,1469.7 656.8,1448.1 674.1,1426.4 691.8,1405.2 709.9,1384.7 728.3,1364.0 747.4,1344.4 768.5,1326.9 790.1,1309.2 801.5,1300.7 810.5,1294.5" stroke="#008000" stroke-width="5.2" stroke-dasharray="5.2 8.65" stroke-linejoin="round"/>
</g>
<rect x="104.5" y="1287.1" width="312.4" height="63.0" rx="3.5" fill="#fff" fill-opacity="0.8" stroke="#d2d2d2" stroke-width="2.9"/>
<line x1="110" y1="1303.2" x2="152.7" y2="1303.2" stroke="#008000" stroke-width="5.2"/>
<line x1="111.6" y1="1332.3" x2="152.7" y2="1332.3" stroke="#008000" stroke-width="5.2" stroke-dasharray="5.2 8.65"/>
<text x="166.4" y="1310.6" font-size="20" textLength="151.5" lengthAdjust="spacingAndGlyphs" fill="#000">ACE[max=2.51]</text>
<text x="166.4" y="1338.8" font-size="20" textLength="241.6" lengthAdjust="spacingAndGlyphs" fill="#000">ACE Fore.[max=13.7225]</text>
<rect x="95.5" y="903.4" width="750.3" height="375.0000000000001" fill="none" stroke="#000" stroke-width="2.8"/>
<rect x="95.5" y="1278.4" width="750.3" height="374.89999999999986" fill="none" stroke="#000" stroke-width="2.8"/>
<text x="69.4" y="1242.8" font-size="13.2" text-anchor="end" textLength="15.2" lengthAdjust="spacingAndGlyphs" fill="#000">20</text>
<text x="69.4" y="1197.4" font-size="13.2" text-anchor="end" textLength="15.2" lengthAdjust="spacingAndGlyphs" fill="#000">30</text>
<text x="69.4" y="1152.0" font-size="13.2" text-anchor="end" textLength="15.2" lengthAdjust="spacingAndGlyphs" fill="#000">40</text>
<text x="69.4" y="1106.6" font-size="13.2" text-anchor="end" textLength="15.2" lengthAdjust="spacingAndGlyphs" fill="#000">50</text>
<text x="69.4" y="1061.2" font-size="13.2" text-anchor="end" textLength="15.2" lengthAdjust="spacingAndGlyphs" fill="#000">60</text>
<text x="69.4" y="1015.8" font-size="13.2" text-anchor="end" textLength="15.2" lengthAdjust="spacingAndGlyphs" fill="#000">70</text>
<text x="69.4" y="970.4" font-size="13.2" text-anchor="end" textLength="15.2" lengthAdjust="spacingAndGlyphs" fill="#000">80</text>
<text x="69.4" y="925.0" font-size="13.2" text-anchor="end" textLength="15.2" lengthAdjust="spacingAndGlyphs" fill="#000">90</text>
<text x="870.7" y="1265.9" font-size="13.2" textLength="32.6" lengthAdjust="spacingAndGlyphs" fill="#000">1004</text>
<text x="870.7" y="1223.3" font-size="13.2" textLength="32.6" lengthAdjust="spacingAndGlyphs" fill="#000">1005</text>
<text x="870.7" y="1180.7" font-size="13.2" textLength="32.6" lengthAdjust="spacingAndGlyphs" fill="#000">1006</text>
<text x="870.7" y="1138.1" font-size="13.2" textLength="32.6" lengthAdjust="spacingAndGlyphs" fill="#000">1007</text>
<text x="870.7" y="1095.5" font-size="13.2" textLength="32.6" lengthAdjust="spacingAndGlyphs" fill="#000">1008</text>
<text x="870.7" y="1052.9" font-size="13.2" textLength="32.6" lengthAdjust="spacingAndGlyphs" fill="#000">1009</text>
<text x="870.7" y="1010.3" font-size="13.2" textLength="32.6" lengthAdjust="spacingAndGlyphs" fill="#000">1010</text>
<text x="870.7" y="967.7" font-size="13.2" textLength="32.6" lengthAdjust="spacingAndGlyphs" fill="#000">1011</text>
<text x="870.7" y="925.1" font-size="13.2" textLength="32.6" lengthAdjust="spacingAndGlyphs" fill="#000">1012</text>
<text x="69.4" y="1641.2" font-size="13.2" text-anchor="end" textLength="7.6" lengthAdjust="spacingAndGlyphs" fill="#000">0</text>
<text x="69.4" y="1591.5" font-size="13.2" text-anchor="end" textLength="7.6" lengthAdjust="spacingAndGlyphs" fill="#000">2</text>
<text x="69.4" y="1541.7" font-size="13.2" text-anchor="end" textLength="7.6" lengthAdjust="spacingAndGlyphs" fill="#000">4</text>
<text x="69.4" y="1492.0" font-size="13.2" text-anchor="end" textLength="7.6" lengthAdjust="spacingAndGlyphs" fill="#000">6</text>
<text x="69.4" y="1442.2" font-size="13.2" text-anchor="end" textLength="7.6" lengthAdjust="spacingAndGlyphs" fill="#000">8</text>
<text x="69.4" y="1392.5" font-size="13.2" text-anchor="end" textLength="15.2" lengthAdjust="spacingAndGlyphs" fill="#000">10</text>
<text x="69.4" y="1342.8" font-size="13.2" text-anchor="end" textLength="15.2" lengthAdjust="spacingAndGlyphs" fill="#000">12</text>
<text x="69.4" y="1293.0" font-size="13.2" text-anchor="end" textLength="15.2" lengthAdjust="spacingAndGlyphs" fill="#000">14</text>
<path d="M83.9,1238.1H95.5 M83.9,1192.7H95.5 M83.9,1147.3H95.5 M83.9,1101.9H95.5 M83.9,1056.5H95.5 M83.9,1011.1H95.5 M83.9,965.7H95.5 M83.9,920.3H95.5 M845.8,1261.2H857.4 M845.8,1218.6H857.4 M845.8,1176.0H857.4 M845.8,1133.4H857.4 M845.8,1090.8H857.4 M845.8,1048.2H857.4 M845.8,1005.6H857.4 M845.8,963.0H857.4 M845.8,920.4H857.4 M83.9,1636.5H95.5 M83.9,1586.8H95.5 M83.9,1537.0H95.5 M83.9,1487.3H95.5 M83.9,1437.5H95.5 M83.9,1387.8H95.5 M83.9,1338.1H95.5 M83.9,1288.3H95.5" stroke="#000" stroke-width="2.8" fill="none"/>
<text transform="translate(34.6,1091.6) rotate(-90)" text-anchor="middle" font-size="13.2" textLength="32.5" lengthAdjust="spacingAndGlyphs">Wind</text>
<text transform="translate(34.6,1466.5) rotate(-90)" text-anchor="middle" font-size="13.2" textLength="26" lengthAdjust="spacingAndGlyphs">ACE</text>
<text transform="translate(929.2,1092.5) rotate(-90)" text-anchor="middle" font-size="13.2" textLength="57.5" lengthAdjust="spacingAndGlyphs">Pressure</text>
<text x="470.5" y="882.3" font-size="24.4" text-anchor="middle" textLength="317.0" lengthAdjust="spacingAndGlyphs" fill="#000">Wind / Pres. / ACE Diagnosis</text>
<clipPath id="cm"><rect x="969.6" y="902.4" width="751.6" height="751.0000000000001"/></clipPath>
<rect x="969.6" y="902.4" width="751.6" height="751.0000000000001" fill="#000"/>
<g clip-path="url(#cm)" shape-rendering="crispEdges">
<polygon points="1266.0,904.9 1283.1,904.9 1274.1,962.9 1289.0,962.9 1284.7,995.3 1300.1,995.3 1295.6,1026.8 1263.0,1026.8 1268.2,995.8 1251.8,995.8" fill="#a0a0a0"/>
<polygon points="1314.3,1010.2 1329.9,1010.2 1322.8,1058.0 1338.0,1058.0 1336.8,1073.7 1303.9,1073.7 1306.3,1058.8 1290.9,1058.8 1292.1,1043.1 1309.1,1043.1" fill="#a0a0a0"/>
<polygon points="969.5,1097.1 976.6,1097.1 974.9,1113.0 991.0,1113.0 988.9,1128.1 1004.0,1128.1 1003.3,1143.7 986.3,1143.7 983.7,1160.5 969.5,1160.5" fill="#a0a0a0"/>
<polygon points="969.5,1177.1 980.8,1177.1 977.0,1207.9 1040.0,1207.2 1038.8,1222.5 988.9,1223.7 987.7,1239.6 969.5,1239.6" fill="#a0a0a0"/>
<polygon points="1019.2,1239.2 1034.8,1239.2 1033.4,1254.6 1049.0,1254.6 1047.1,1270.5 1062.0,1270.5 1060.8,1285.9 1091.8,1284.9 1087.8,1316.9 1103.0,1316.9 1102.0,1332.0 1068.2,1333.0 1063.7,1364.7 1048.3,1364.7 1049.9,1348.8 1034.1,1349.3 1029.8,1380.5 1014.0,1380.5 1019.9,1333.9 987.9,1335.1 985.6,1350.5 969.5,1350.5 969.5,1288.5 1028.6,1287.0 1030.3,1270.5 1014.9,1270.5" fill="#a0a0a0"/>
<polygon points="969.5,1461.0 983.7,1461.0 983.0,1477.1 997.9,1477.1 993.8,1507.9 1040.9,1507.9 1040.0,1522.8 1086.9,1522.1 1085.9,1537.9 1132.8,1537.0 1130.9,1552.8 1146.0,1552.8 1145.1,1567.8 1160.9,1567.8 1163.1,1552.1 1178.9,1552.1 1176.8,1567.8 1208.0,1567.0 1203.8,1597.8 1267.7,1597.1 1265.8,1613.2 1281.2,1613.2 1280.0,1627.9 1310.8,1627.9 1309.8,1644.0 1325.9,1644.0 1327.3,1627.4 1343.0,1627.4 1342.0,1643.3 1356.9,1643.3 1355.7,1654.6 969.5,1654.6" fill="#a0a0a0"/>
<polygon points="969.5,1603.0 993.8,1603.0 992.7,1618.6 1008.0,1618.6 1006.9,1634.0 1022.0,1634.0 1019.2,1654.6 969.5,1654.6" fill="#707070"/>
<polygon points="1292.1,1344.0 1323.9,1344.0 1322.5,1359.3 1353.7,1358.8 1351.7,1373.8 1384.4,1373.8 1386.4,1357.6 1402.9,1357.6 1410.0,1309.9 1426.2,1309.9 1419.9,1356.8 1434.7,1356.8 1432.7,1373.0 1448.0,1373.0 1444.0,1403.6 1475.9,1404.2 1471.6,1434.9 1486.7,1434.9 1484.9,1451.1 1436.7,1451.9 1438.1,1436.3 1422.5,1435.4 1424.7,1421.2 1377.0,1420.7 1378.7,1406.2 1314.8,1406.5 1321.6,1360.2 1305.4,1359.3 1303.5,1376.4 1287.6,1376.4" fill="#fff"/>
<polygon points="1507.1,1213.1 1539.8,1211.6 1542.0,1195.4 1557.7,1195.4 1554.0,1226.7 1585.8,1226.7 1588.1,1210.5 1620.7,1209.6 1623.6,1194.0 1656.2,1194.0 1646.3,1256.5 1661.3,1256.5 1669.0,1208.8 1685.5,1208.8 1688.0,1193.2 1703.9,1193.2 1699.7,1223.8 1715.9,1223.8 1718.7,1206.8 1719.6,1206.8 1719.6,1367.3 1676.1,1367.3 1678.1,1352.2 1661.9,1352.2 1656.8,1384.3 1640.0,1384.3 1635.8,1416.1 1603.7,1416.1 1605.1,1400.8 1588.9,1400.8 1580.1,1464.7 1546.9,1464.7 1551.1,1434.0 1535.5,1433.5 1542.6,1385.7 1527.6,1385.7 1525.0,1402.8 1492.9,1402.8 1493.8,1387.2 1462.5,1387.7 1478.1,1292.0 1494.9,1291.4 1495.7,1277.0 1481.0,1277.0 1483.0,1261.3 1500.0,1260.8" fill="#fff"/>
<rect x="972" y="904.7" width="36.2" height="1.4" fill="#fff"/>
<rect x="1008" y="904.2" width="50" height="0.8" fill="#888"/>
<rect x="1640" y="905" width="32" height="2" fill="#fff"/>
<rect x="1694" y="1650.4" width="25" height="1.2" fill="#fff"/>
</g>
<text x="989.6" y="939.1" font-size="22.2" font-weight="bold" textLength="166.8" lengthAdjust="spacingAndGlyphs" fill="#fff">WMG Count: 0</text>
<rect x="969.6" y="902.4" width="751.6" height="751.0000000000001" fill="none" stroke="#000" stroke-width="2.6"/>
</svg></body></html>
